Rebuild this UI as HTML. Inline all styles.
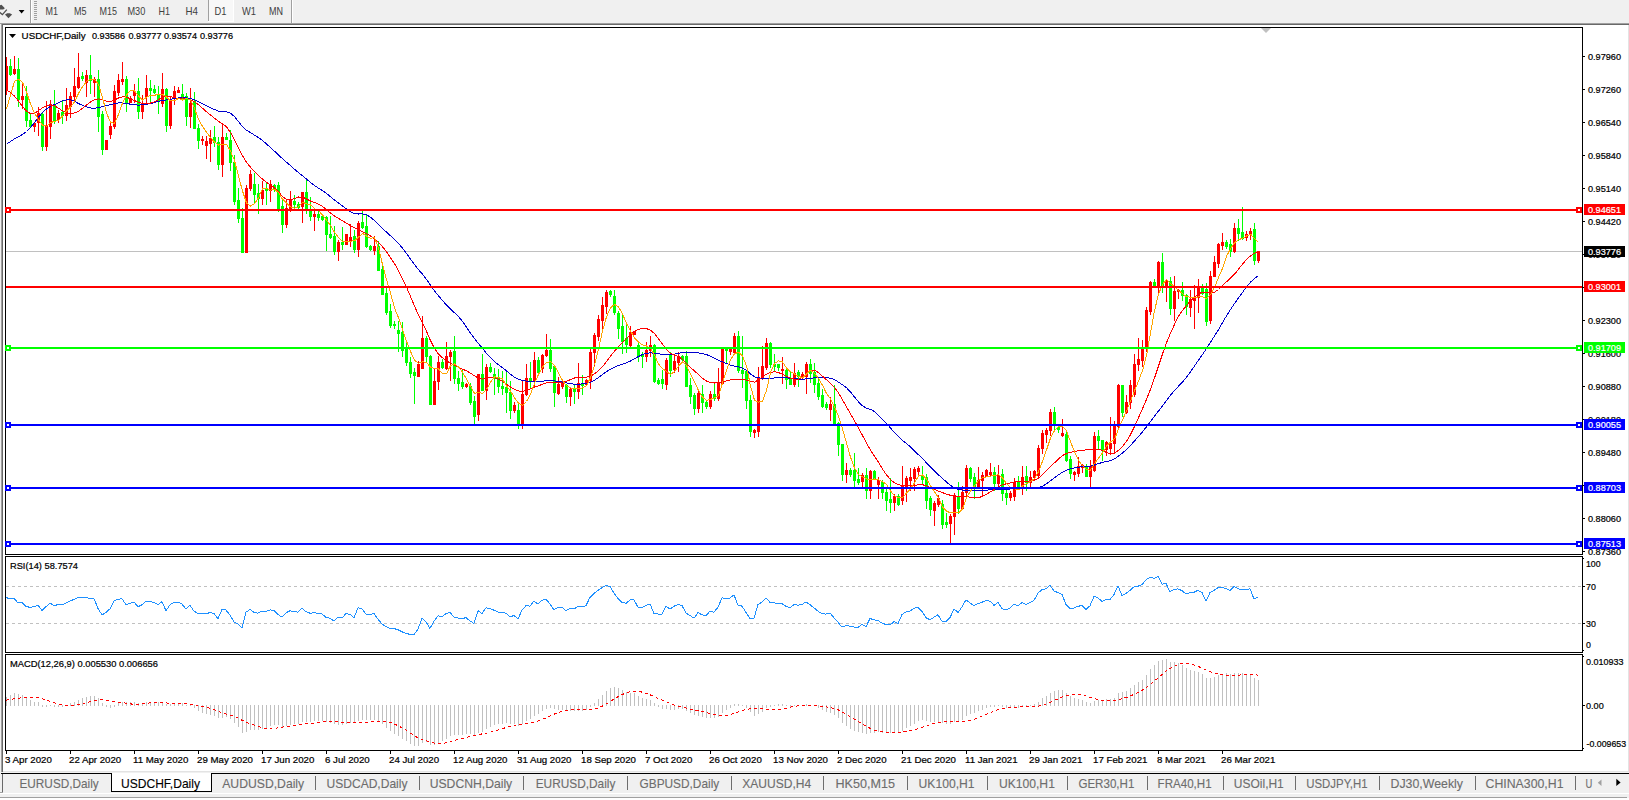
<!DOCTYPE html><html><head><meta charset="utf-8"><title>USDCHF,Daily</title>
<style>html,body{margin:0;padding:0;background:#f0f0f0;overflow:hidden}body{width:1629px;height:800px;position:relative;font-family:"Liberation Sans",sans-serif}svg{position:absolute;left:0;top:0;display:block}text{font-family:"Liberation Sans",sans-serif}</style></head><body>
<svg width="1629" height="800" viewBox="0 0 1629 800">
<rect x="0" y="0" width="1629" height="800" fill="#f0f0f0"/>
<g shape-rendering="crispEdges">
<rect x="3" y="25" width="1625" height="747" fill="#fff"/>
<rect x="0" y="23" width="1629" height="1" fill="#a0a0a0"/>
<rect x="2" y="24" width="1627" height="1" fill="#696969"/>
<rect x="1" y="23" width="1" height="749" fill="#a0a0a0"/>
<rect x="2" y="24" width="1" height="748" fill="#696969"/>
<rect x="1628" y="25" width="1" height="747" fill="#e3e3e3"/>
<rect x="5" y="27" width="1578" height="1" fill="#000"/>
<rect x="5" y="554" width="1578" height="1" fill="#000"/>
<rect x="5" y="27" width="1" height="528" fill="#000"/>
<rect x="1582" y="27" width="1" height="528" fill="#000"/>
<rect x="5" y="556" width="1578" height="1" fill="#000"/>
<rect x="5" y="652" width="1578" height="1" fill="#000"/>
<rect x="5" y="556" width="1" height="97" fill="#000"/>
<rect x="1582" y="556" width="1" height="97" fill="#000"/>
<rect x="5" y="654" width="1578" height="1" fill="#000"/>
<rect x="5" y="750" width="1578" height="1" fill="#000"/>
<rect x="5" y="654" width="1" height="97" fill="#000"/>
<rect x="1582" y="654" width="1" height="97" fill="#000"/>
</g>
<defs><clipPath id="cm"><rect x="6" y="28" width="1576" height="526"/></clipPath><clipPath id="cr"><rect x="6" y="557" width="1576" height="95"/></clipPath><clipPath id="cd"><rect x="6" y="655" width="1576" height="95"/></clipPath></defs>
<g clip-path="url(#cm)" shape-rendering="crispEdges">
<rect x="6" y="251" width="1576" height="1" fill="#c0c0c0"/>
<rect x="6" y="57" width="1" height="38" fill="#ff0000"/><rect x="5" y="66" width="3" height="24" fill="#ff0000"/>
<rect x="10" y="59" width="1" height="17" fill="#00ff00"/><rect x="9" y="66" width="3" height="9" fill="#00ff00"/>
<rect x="14" y="56" width="1" height="19" fill="#ff0000"/><rect x="13" y="69" width="3" height="5" fill="#ff0000"/>
<rect x="18" y="58" width="1" height="49" fill="#00ff00"/><rect x="17" y="69" width="3" height="31" fill="#00ff00"/>
<rect x="22" y="82" width="1" height="27" fill="#ff0000"/><rect x="21" y="96" width="3" height="4" fill="#ff0000"/>
<rect x="26" y="86" width="1" height="41" fill="#00ff00"/><rect x="25" y="96" width="3" height="25" fill="#00ff00"/>
<rect x="30" y="114" width="1" height="14" fill="#00ff00"/><rect x="29" y="120" width="3" height="7" fill="#00ff00"/>
<rect x="34" y="122" width="1" height="10" fill="#ff0000"/><rect x="33" y="123" width="3" height="4" fill="#ff0000"/>
<rect x="38" y="107" width="1" height="29" fill="#ff0000"/><rect x="37" y="113" width="3" height="10" fill="#ff0000"/>
<rect x="42" y="112" width="1" height="39" fill="#00ff00"/><rect x="41" y="114" width="3" height="33" fill="#00ff00"/>
<rect x="46" y="101" width="1" height="50" fill="#ff0000"/><rect x="45" y="126" width="3" height="21" fill="#ff0000"/>
<rect x="50" y="100" width="1" height="39" fill="#ff0000"/><rect x="49" y="104" width="3" height="23" fill="#ff0000"/>
<rect x="54" y="90" width="1" height="34" fill="#00ff00"/><rect x="53" y="105" width="3" height="16" fill="#00ff00"/>
<rect x="58" y="110" width="1" height="13" fill="#ff0000"/><rect x="57" y="113" width="3" height="7" fill="#ff0000"/>
<rect x="62" y="101" width="1" height="23" fill="#00ff00"/><rect x="61" y="112" width="3" height="4" fill="#00ff00"/>
<rect x="66" y="88" width="1" height="33" fill="#ff0000"/><rect x="65" y="105" width="3" height="11" fill="#ff0000"/>
<rect x="70" y="92" width="1" height="26" fill="#ff0000"/><rect x="69" y="96" width="3" height="11" fill="#ff0000"/>
<rect x="74" y="68" width="1" height="33" fill="#ff0000"/><rect x="73" y="86" width="3" height="11" fill="#ff0000"/>
<rect x="78" y="53" width="1" height="36" fill="#ff0000"/><rect x="77" y="77" width="3" height="11" fill="#ff0000"/>
<rect x="82" y="72" width="1" height="9" fill="#00ff00"/><rect x="81" y="76" width="3" height="3" fill="#00ff00"/>
<rect x="86" y="70" width="1" height="27" fill="#ff0000"/><rect x="85" y="75" width="3" height="8" fill="#ff0000"/>
<rect x="90" y="55" width="1" height="39" fill="#00ff00"/><rect x="89" y="75" width="3" height="6" fill="#00ff00"/>
<rect x="94" y="77" width="1" height="20" fill="#ff0000"/><rect x="93" y="79" width="3" height="4" fill="#ff0000"/>
<rect x="98" y="70" width="1" height="62" fill="#00ff00"/><rect x="97" y="79" width="3" height="38" fill="#00ff00"/>
<rect x="102" y="111" width="1" height="44" fill="#00ff00"/><rect x="101" y="114" width="3" height="36" fill="#00ff00"/>
<rect x="106" y="140" width="1" height="10" fill="#ff0000"/><rect x="105" y="140" width="3" height="10" fill="#ff0000"/>
<rect x="110" y="122" width="1" height="17" fill="#ff0000"/><rect x="109" y="126" width="3" height="9" fill="#ff0000"/>
<rect x="114" y="85" width="1" height="44" fill="#ff0000"/><rect x="113" y="91" width="3" height="36" fill="#ff0000"/>
<rect x="118" y="74" width="1" height="22" fill="#ff0000"/><rect x="117" y="80" width="3" height="13" fill="#ff0000"/>
<rect x="122" y="62" width="1" height="23" fill="#ff0000"/><rect x="121" y="79" width="3" height="3" fill="#ff0000"/>
<rect x="126" y="76" width="1" height="36" fill="#00ff00"/><rect x="125" y="79" width="3" height="24" fill="#00ff00"/>
<rect x="130" y="96" width="1" height="7" fill="#ff0000"/><rect x="129" y="98" width="3" height="5" fill="#ff0000"/>
<rect x="134" y="84" width="1" height="19" fill="#ff0000"/><rect x="133" y="91" width="3" height="5" fill="#ff0000"/>
<rect x="138" y="78" width="1" height="41" fill="#00ff00"/><rect x="137" y="91" width="3" height="21" fill="#00ff00"/>
<rect x="142" y="95" width="1" height="24" fill="#ff0000"/><rect x="141" y="103" width="3" height="9" fill="#ff0000"/>
<rect x="146" y="75" width="1" height="29" fill="#ff0000"/><rect x="145" y="88" width="3" height="9" fill="#ff0000"/>
<rect x="150" y="80" width="1" height="23" fill="#00ff00"/><rect x="149" y="88" width="3" height="3" fill="#00ff00"/>
<rect x="154" y="85" width="1" height="9" fill="#00ff00"/><rect x="153" y="89" width="3" height="4" fill="#00ff00"/>
<rect x="158" y="86" width="1" height="28" fill="#00ff00"/><rect x="157" y="94" width="3" height="7" fill="#00ff00"/>
<rect x="162" y="73" width="1" height="34" fill="#ff0000"/><rect x="161" y="89" width="3" height="15" fill="#ff0000"/>
<rect x="166" y="88" width="1" height="44" fill="#00ff00"/><rect x="165" y="89" width="3" height="37" fill="#00ff00"/>
<rect x="170" y="96" width="1" height="33" fill="#ff0000"/><rect x="169" y="101" width="3" height="25" fill="#ff0000"/>
<rect x="174" y="86" width="1" height="19" fill="#ff0000"/><rect x="173" y="91" width="3" height="8" fill="#ff0000"/>
<rect x="178" y="87" width="1" height="6" fill="#ff0000"/><rect x="177" y="90" width="3" height="3" fill="#ff0000"/>
<rect x="182" y="84" width="1" height="15" fill="#00ff00"/><rect x="181" y="94" width="3" height="4" fill="#00ff00"/>
<rect x="186" y="93" width="1" height="33" fill="#00ff00"/><rect x="185" y="96" width="3" height="21" fill="#00ff00"/>
<rect x="190" y="88" width="1" height="40" fill="#ff0000"/><rect x="189" y="103" width="3" height="14" fill="#ff0000"/>
<rect x="194" y="92" width="1" height="37" fill="#00ff00"/><rect x="193" y="101" width="3" height="28" fill="#00ff00"/>
<rect x="198" y="124" width="1" height="25" fill="#00ff00"/><rect x="197" y="128" width="3" height="13" fill="#00ff00"/>
<rect x="202" y="136" width="1" height="9" fill="#ff0000"/><rect x="201" y="139" width="3" height="2" fill="#ff0000"/>
<rect x="206" y="136" width="1" height="23" fill="#ff0000"/><rect x="205" y="141" width="3" height="5" fill="#ff0000"/>
<rect x="210" y="130" width="1" height="32" fill="#ff0000"/><rect x="209" y="138" width="3" height="6" fill="#ff0000"/>
<rect x="214" y="126" width="1" height="21" fill="#00ff00"/><rect x="213" y="137" width="3" height="6" fill="#00ff00"/>
<rect x="218" y="137" width="1" height="33" fill="#00ff00"/><rect x="217" y="142" width="3" height="23" fill="#00ff00"/>
<rect x="222" y="124" width="1" height="53" fill="#ff0000"/><rect x="221" y="137" width="3" height="28" fill="#ff0000"/>
<rect x="226" y="133" width="1" height="7" fill="#00ff00"/><rect x="225" y="137" width="3" height="3" fill="#00ff00"/>
<rect x="230" y="130" width="1" height="41" fill="#00ff00"/><rect x="229" y="140" width="3" height="23" fill="#00ff00"/>
<rect x="234" y="155" width="1" height="50" fill="#00ff00"/><rect x="233" y="162" width="3" height="40" fill="#00ff00"/>
<rect x="238" y="188" width="1" height="35" fill="#00ff00"/><rect x="237" y="200" width="3" height="19" fill="#00ff00"/>
<rect x="242" y="208" width="1" height="45" fill="#00ff00"/><rect x="241" y="218" width="3" height="35" fill="#00ff00"/>
<rect x="246" y="185" width="1" height="68" fill="#ff0000"/><rect x="245" y="188" width="3" height="65" fill="#ff0000"/>
<rect x="250" y="170" width="1" height="21" fill="#ff0000"/><rect x="249" y="174" width="3" height="15" fill="#ff0000"/>
<rect x="254" y="173" width="1" height="31" fill="#00ff00"/><rect x="253" y="184" width="3" height="11" fill="#00ff00"/>
<rect x="258" y="184" width="1" height="30" fill="#00ff00"/><rect x="257" y="193" width="3" height="6" fill="#00ff00"/>
<rect x="262" y="181" width="1" height="24" fill="#ff0000"/><rect x="261" y="190" width="3" height="9" fill="#ff0000"/>
<rect x="266" y="183" width="1" height="22" fill="#00ff00"/><rect x="265" y="188" width="3" height="3" fill="#00ff00"/>
<rect x="270" y="180" width="1" height="22" fill="#ff0000"/><rect x="269" y="184" width="3" height="7" fill="#ff0000"/>
<rect x="274" y="184" width="1" height="8" fill="#00ff00"/><rect x="273" y="185" width="3" height="4" fill="#00ff00"/>
<rect x="278" y="182" width="1" height="30" fill="#00ff00"/><rect x="277" y="185" width="3" height="24" fill="#00ff00"/>
<rect x="282" y="200" width="1" height="33" fill="#00ff00"/><rect x="281" y="206" width="3" height="19" fill="#00ff00"/>
<rect x="286" y="200" width="1" height="28" fill="#ff0000"/><rect x="285" y="208" width="3" height="17" fill="#ff0000"/>
<rect x="290" y="191" width="1" height="21" fill="#ff0000"/><rect x="289" y="200" width="3" height="10" fill="#ff0000"/>
<rect x="294" y="195" width="1" height="14" fill="#00ff00"/><rect x="293" y="201" width="3" height="4" fill="#00ff00"/>
<rect x="298" y="202" width="1" height="7" fill="#00ff00"/><rect x="297" y="204" width="3" height="4" fill="#00ff00"/>
<rect x="302" y="192" width="1" height="31" fill="#ff0000"/><rect x="301" y="192" width="3" height="15" fill="#ff0000"/>
<rect x="306" y="178" width="1" height="36" fill="#00ff00"/><rect x="305" y="192" width="3" height="18" fill="#00ff00"/>
<rect x="310" y="197" width="1" height="24" fill="#00ff00"/><rect x="309" y="210" width="3" height="7" fill="#00ff00"/>
<rect x="314" y="210" width="1" height="21" fill="#ff0000"/><rect x="313" y="214" width="3" height="3" fill="#ff0000"/>
<rect x="318" y="210" width="1" height="11" fill="#00ff00"/><rect x="317" y="214" width="3" height="4" fill="#00ff00"/>
<rect x="322" y="215" width="1" height="6" fill="#00ff00"/><rect x="321" y="216" width="3" height="4" fill="#00ff00"/>
<rect x="326" y="216" width="1" height="35" fill="#00ff00"/><rect x="325" y="217" width="3" height="18" fill="#00ff00"/>
<rect x="330" y="216" width="1" height="23" fill="#00ff00"/><rect x="329" y="234" width="3" height="4" fill="#00ff00"/>
<rect x="334" y="226" width="1" height="29" fill="#00ff00"/><rect x="333" y="236" width="3" height="16" fill="#00ff00"/>
<rect x="338" y="240" width="1" height="21" fill="#ff0000"/><rect x="337" y="242" width="3" height="10" fill="#ff0000"/>
<rect x="342" y="227" width="1" height="23" fill="#00ff00"/><rect x="341" y="242" width="3" height="3" fill="#00ff00"/>
<rect x="346" y="234" width="1" height="11" fill="#ff0000"/><rect x="345" y="234" width="3" height="11" fill="#ff0000"/>
<rect x="350" y="224" width="1" height="23" fill="#ff0000"/><rect x="349" y="237" width="3" height="4" fill="#ff0000"/>
<rect x="354" y="230" width="1" height="23" fill="#00ff00"/><rect x="353" y="236" width="3" height="14" fill="#00ff00"/>
<rect x="358" y="221" width="1" height="36" fill="#ff0000"/><rect x="357" y="223" width="3" height="27" fill="#ff0000"/>
<rect x="362" y="211" width="1" height="18" fill="#00ff00"/><rect x="361" y="222" width="3" height="6" fill="#00ff00"/>
<rect x="366" y="214" width="1" height="34" fill="#00ff00"/><rect x="365" y="226" width="3" height="21" fill="#00ff00"/>
<rect x="370" y="245" width="1" height="6" fill="#00ff00"/><rect x="369" y="246" width="3" height="4" fill="#00ff00"/>
<rect x="374" y="236" width="1" height="19" fill="#ff0000"/><rect x="373" y="246" width="3" height="5" fill="#ff0000"/>
<rect x="378" y="241" width="1" height="30" fill="#00ff00"/><rect x="377" y="246" width="3" height="25" fill="#00ff00"/>
<rect x="382" y="264" width="1" height="31" fill="#00ff00"/><rect x="381" y="269" width="3" height="26" fill="#00ff00"/>
<rect x="386" y="288" width="1" height="27" fill="#00ff00"/><rect x="385" y="293" width="3" height="20" fill="#00ff00"/>
<rect x="390" y="304" width="1" height="24" fill="#00ff00"/><rect x="389" y="311" width="3" height="15" fill="#00ff00"/>
<rect x="394" y="321" width="1" height="8" fill="#00ff00"/><rect x="393" y="324" width="3" height="2" fill="#00ff00"/>
<rect x="398" y="321" width="1" height="31" fill="#00ff00"/><rect x="397" y="330" width="3" height="4" fill="#00ff00"/>
<rect x="402" y="322" width="1" height="35" fill="#00ff00"/><rect x="401" y="332" width="3" height="19" fill="#00ff00"/>
<rect x="406" y="341" width="1" height="25" fill="#00ff00"/><rect x="405" y="348" width="3" height="15" fill="#00ff00"/>
<rect x="410" y="357" width="1" height="21" fill="#00ff00"/><rect x="409" y="362" width="3" height="12" fill="#00ff00"/>
<rect x="414" y="368" width="1" height="36" fill="#00ff00"/><rect x="413" y="372" width="3" height="4" fill="#00ff00"/>
<rect x="418" y="361" width="1" height="16" fill="#ff0000"/><rect x="417" y="364" width="3" height="13" fill="#ff0000"/>
<rect x="422" y="316" width="1" height="53" fill="#ff0000"/><rect x="421" y="338" width="3" height="31" fill="#ff0000"/>
<rect x="426" y="336" width="1" height="27" fill="#00ff00"/><rect x="425" y="338" width="3" height="19" fill="#00ff00"/>
<rect x="430" y="355" width="1" height="50" fill="#00ff00"/><rect x="429" y="356" width="3" height="49" fill="#00ff00"/>
<rect x="434" y="368" width="1" height="37" fill="#ff0000"/><rect x="433" y="381" width="3" height="24" fill="#ff0000"/>
<rect x="438" y="356" width="1" height="34" fill="#ff0000"/><rect x="437" y="362" width="3" height="20" fill="#ff0000"/>
<rect x="442" y="359" width="1" height="10" fill="#00ff00"/><rect x="441" y="362" width="3" height="6" fill="#00ff00"/>
<rect x="446" y="342" width="1" height="28" fill="#ff0000"/><rect x="445" y="356" width="3" height="13" fill="#ff0000"/>
<rect x="450" y="350" width="1" height="31" fill="#ff0000"/><rect x="449" y="352" width="3" height="5" fill="#ff0000"/>
<rect x="454" y="336" width="1" height="48" fill="#00ff00"/><rect x="453" y="351" width="3" height="28" fill="#00ff00"/>
<rect x="458" y="371" width="1" height="20" fill="#00ff00"/><rect x="457" y="378" width="3" height="6" fill="#00ff00"/>
<rect x="462" y="370" width="1" height="19" fill="#00ff00"/><rect x="461" y="382" width="3" height="5" fill="#00ff00"/>
<rect x="466" y="383" width="1" height="5" fill="#ff0000"/><rect x="465" y="384" width="3" height="3" fill="#ff0000"/>
<rect x="470" y="383" width="1" height="22" fill="#00ff00"/><rect x="469" y="386" width="3" height="17" fill="#00ff00"/>
<rect x="474" y="396" width="1" height="29" fill="#00ff00"/><rect x="473" y="401" width="3" height="16" fill="#00ff00"/>
<rect x="478" y="374" width="1" height="47" fill="#ff0000"/><rect x="477" y="374" width="3" height="41" fill="#ff0000"/>
<rect x="482" y="354" width="1" height="37" fill="#00ff00"/><rect x="481" y="374" width="3" height="17" fill="#00ff00"/>
<rect x="486" y="364" width="1" height="36" fill="#ff0000"/><rect x="485" y="367" width="3" height="24" fill="#ff0000"/>
<rect x="490" y="363" width="1" height="10" fill="#00ff00"/><rect x="489" y="367" width="3" height="5" fill="#00ff00"/>
<rect x="494" y="368" width="1" height="27" fill="#00ff00"/><rect x="493" y="374" width="3" height="5" fill="#00ff00"/>
<rect x="498" y="369" width="1" height="24" fill="#00ff00"/><rect x="497" y="378" width="3" height="9" fill="#00ff00"/>
<rect x="502" y="371" width="1" height="24" fill="#00ff00"/><rect x="501" y="386" width="3" height="3" fill="#00ff00"/>
<rect x="506" y="371" width="1" height="42" fill="#00ff00"/><rect x="505" y="387" width="3" height="6" fill="#00ff00"/>
<rect x="510" y="381" width="1" height="38" fill="#00ff00"/><rect x="509" y="392" width="3" height="19" fill="#00ff00"/>
<rect x="514" y="402" width="1" height="11" fill="#ff0000"/><rect x="513" y="405" width="3" height="6" fill="#ff0000"/>
<rect x="518" y="404" width="1" height="25" fill="#00ff00"/><rect x="517" y="410" width="3" height="14" fill="#00ff00"/>
<rect x="522" y="380" width="1" height="49" fill="#ff0000"/><rect x="521" y="394" width="3" height="30" fill="#ff0000"/>
<rect x="526" y="364" width="1" height="32" fill="#ff0000"/><rect x="525" y="378" width="3" height="17" fill="#ff0000"/>
<rect x="530" y="362" width="1" height="27" fill="#00ff00"/><rect x="529" y="378" width="3" height="3" fill="#00ff00"/>
<rect x="534" y="352" width="1" height="35" fill="#ff0000"/><rect x="533" y="360" width="3" height="21" fill="#ff0000"/>
<rect x="538" y="357" width="1" height="16" fill="#00ff00"/><rect x="537" y="360" width="3" height="13" fill="#00ff00"/>
<rect x="542" y="354" width="1" height="19" fill="#ff0000"/><rect x="541" y="355" width="3" height="14" fill="#ff0000"/>
<rect x="546" y="334" width="1" height="23" fill="#ff0000"/><rect x="545" y="350" width="3" height="6" fill="#ff0000"/>
<rect x="550" y="339" width="1" height="33" fill="#00ff00"/><rect x="549" y="350" width="3" height="19" fill="#00ff00"/>
<rect x="554" y="365" width="1" height="42" fill="#00ff00"/><rect x="553" y="366" width="3" height="27" fill="#00ff00"/>
<rect x="558" y="377" width="1" height="18" fill="#ff0000"/><rect x="557" y="384" width="3" height="10" fill="#ff0000"/>
<rect x="562" y="379" width="1" height="10" fill="#ff0000"/><rect x="561" y="382" width="3" height="5" fill="#ff0000"/>
<rect x="566" y="384" width="1" height="19" fill="#00ff00"/><rect x="565" y="385" width="3" height="12" fill="#00ff00"/>
<rect x="570" y="388" width="1" height="18" fill="#ff0000"/><rect x="569" y="389" width="3" height="8" fill="#ff0000"/>
<rect x="574" y="385" width="1" height="19" fill="#00ff00"/><rect x="573" y="389" width="3" height="3" fill="#00ff00"/>
<rect x="578" y="363" width="1" height="36" fill="#ff0000"/><rect x="577" y="383" width="3" height="9" fill="#ff0000"/>
<rect x="582" y="375" width="1" height="20" fill="#00ff00"/><rect x="581" y="383" width="3" height="3" fill="#00ff00"/>
<rect x="586" y="379" width="1" height="7" fill="#ff0000"/><rect x="585" y="380" width="3" height="5" fill="#ff0000"/>
<rect x="590" y="349" width="1" height="40" fill="#ff0000"/><rect x="589" y="352" width="3" height="29" fill="#ff0000"/>
<rect x="594" y="333" width="1" height="33" fill="#ff0000"/><rect x="593" y="335" width="3" height="18" fill="#ff0000"/>
<rect x="598" y="315" width="1" height="26" fill="#ff0000"/><rect x="597" y="319" width="3" height="18" fill="#ff0000"/>
<rect x="602" y="297" width="1" height="32" fill="#ff0000"/><rect x="601" y="305" width="3" height="16" fill="#ff0000"/>
<rect x="606" y="290" width="1" height="24" fill="#ff0000"/><rect x="605" y="292" width="3" height="15" fill="#ff0000"/>
<rect x="610" y="290" width="1" height="7" fill="#00ff00"/><rect x="609" y="291" width="3" height="4" fill="#00ff00"/>
<rect x="614" y="290" width="1" height="25" fill="#00ff00"/><rect x="613" y="296" width="3" height="17" fill="#00ff00"/>
<rect x="618" y="311" width="1" height="28" fill="#00ff00"/><rect x="617" y="313" width="3" height="16" fill="#00ff00"/>
<rect x="622" y="315" width="1" height="39" fill="#00ff00"/><rect x="621" y="326" width="3" height="16" fill="#00ff00"/>
<rect x="626" y="325" width="1" height="28" fill="#00ff00"/><rect x="625" y="338" width="3" height="7" fill="#00ff00"/>
<rect x="630" y="326" width="1" height="21" fill="#ff0000"/><rect x="629" y="332" width="3" height="14" fill="#ff0000"/>
<rect x="634" y="331" width="1" height="4" fill="#ff0000"/><rect x="633" y="331" width="3" height="4" fill="#ff0000"/>
<rect x="638" y="342" width="1" height="20" fill="#00ff00"/><rect x="637" y="345" width="3" height="12" fill="#00ff00"/>
<rect x="642" y="352" width="1" height="16" fill="#00ff00"/><rect x="641" y="354" width="3" height="3" fill="#00ff00"/>
<rect x="646" y="342" width="1" height="20" fill="#ff0000"/><rect x="645" y="350" width="3" height="7" fill="#ff0000"/>
<rect x="650" y="336" width="1" height="21" fill="#ff0000"/><rect x="649" y="345" width="3" height="6" fill="#ff0000"/>
<rect x="654" y="344" width="1" height="39" fill="#00ff00"/><rect x="653" y="345" width="3" height="37" fill="#00ff00"/>
<rect x="658" y="378" width="1" height="7" fill="#00ff00"/><rect x="657" y="380" width="3" height="4" fill="#00ff00"/>
<rect x="662" y="370" width="1" height="19" fill="#00ff00"/><rect x="661" y="379" width="3" height="5" fill="#00ff00"/>
<rect x="666" y="358" width="1" height="32" fill="#ff0000"/><rect x="665" y="360" width="3" height="25" fill="#ff0000"/>
<rect x="670" y="352" width="1" height="25" fill="#00ff00"/><rect x="669" y="355" width="3" height="16" fill="#00ff00"/>
<rect x="674" y="354" width="1" height="19" fill="#ff0000"/><rect x="673" y="361" width="3" height="9" fill="#ff0000"/>
<rect x="678" y="352" width="1" height="20" fill="#ff0000"/><rect x="677" y="356" width="3" height="7" fill="#ff0000"/>
<rect x="682" y="355" width="1" height="6" fill="#00ff00"/><rect x="681" y="356" width="3" height="4" fill="#00ff00"/>
<rect x="686" y="351" width="1" height="36" fill="#00ff00"/><rect x="685" y="356" width="3" height="31" fill="#00ff00"/>
<rect x="690" y="378" width="1" height="26" fill="#00ff00"/><rect x="689" y="385" width="3" height="12" fill="#00ff00"/>
<rect x="694" y="393" width="1" height="22" fill="#00ff00"/><rect x="693" y="395" width="3" height="14" fill="#00ff00"/>
<rect x="698" y="390" width="1" height="23" fill="#ff0000"/><rect x="697" y="393" width="3" height="16" fill="#ff0000"/>
<rect x="702" y="385" width="1" height="28" fill="#00ff00"/><rect x="701" y="394" width="3" height="9" fill="#00ff00"/>
<rect x="706" y="401" width="1" height="8" fill="#00ff00"/><rect x="705" y="402" width="3" height="5" fill="#00ff00"/>
<rect x="710" y="391" width="1" height="18" fill="#ff0000"/><rect x="709" y="394" width="3" height="13" fill="#ff0000"/>
<rect x="714" y="382" width="1" height="19" fill="#00ff00"/><rect x="713" y="394" width="3" height="5" fill="#00ff00"/>
<rect x="718" y="368" width="1" height="33" fill="#ff0000"/><rect x="717" y="383" width="3" height="16" fill="#ff0000"/>
<rect x="722" y="348" width="1" height="37" fill="#ff0000"/><rect x="721" y="349" width="3" height="35" fill="#ff0000"/>
<rect x="726" y="348" width="1" height="15" fill="#00ff00"/><rect x="725" y="348" width="3" height="3" fill="#00ff00"/>
<rect x="730" y="348" width="1" height="7" fill="#ff0000"/><rect x="729" y="349" width="3" height="3" fill="#ff0000"/>
<rect x="734" y="333" width="1" height="20" fill="#ff0000"/><rect x="733" y="336" width="3" height="17" fill="#ff0000"/>
<rect x="738" y="331" width="1" height="42" fill="#00ff00"/><rect x="737" y="336" width="3" height="35" fill="#00ff00"/>
<rect x="742" y="336" width="1" height="52" fill="#00ff00"/><rect x="741" y="370" width="3" height="4" fill="#00ff00"/>
<rect x="746" y="370" width="1" height="39" fill="#00ff00"/><rect x="745" y="371" width="3" height="30" fill="#00ff00"/>
<rect x="750" y="395" width="1" height="42" fill="#00ff00"/><rect x="749" y="400" width="3" height="32" fill="#00ff00"/>
<rect x="754" y="429" width="1" height="9" fill="#ff0000"/><rect x="753" y="430" width="3" height="3" fill="#ff0000"/>
<rect x="758" y="367" width="1" height="70" fill="#ff0000"/><rect x="757" y="378" width="3" height="54" fill="#ff0000"/>
<rect x="762" y="346" width="1" height="34" fill="#ff0000"/><rect x="761" y="366" width="3" height="13" fill="#ff0000"/>
<rect x="766" y="338" width="1" height="32" fill="#ff0000"/><rect x="765" y="343" width="3" height="25" fill="#ff0000"/>
<rect x="770" y="342" width="1" height="26" fill="#00ff00"/><rect x="769" y="343" width="3" height="22" fill="#00ff00"/>
<rect x="774" y="354" width="1" height="17" fill="#00ff00"/><rect x="773" y="364" width="3" height="3" fill="#00ff00"/>
<rect x="778" y="364" width="1" height="7" fill="#00ff00"/><rect x="777" y="364" width="3" height="4" fill="#00ff00"/>
<rect x="782" y="357" width="1" height="27" fill="#ff0000"/><rect x="781" y="369" width="3" height="2" fill="#ff0000"/>
<rect x="786" y="369" width="1" height="20" fill="#00ff00"/><rect x="785" y="370" width="3" height="10" fill="#00ff00"/>
<rect x="790" y="371" width="1" height="14" fill="#00ff00"/><rect x="789" y="378" width="3" height="7" fill="#00ff00"/>
<rect x="794" y="363" width="1" height="24" fill="#ff0000"/><rect x="793" y="373" width="3" height="12" fill="#ff0000"/>
<rect x="798" y="370" width="1" height="17" fill="#00ff00"/><rect x="797" y="372" width="3" height="5" fill="#00ff00"/>
<rect x="802" y="372" width="1" height="7" fill="#ff0000"/><rect x="801" y="374" width="3" height="3" fill="#ff0000"/>
<rect x="806" y="362" width="1" height="32" fill="#ff0000"/><rect x="805" y="364" width="3" height="13" fill="#ff0000"/>
<rect x="810" y="359" width="1" height="24" fill="#00ff00"/><rect x="809" y="364" width="3" height="10" fill="#00ff00"/>
<rect x="814" y="363" width="1" height="30" fill="#00ff00"/><rect x="813" y="372" width="3" height="13" fill="#00ff00"/>
<rect x="818" y="379" width="1" height="21" fill="#00ff00"/><rect x="817" y="383" width="3" height="14" fill="#00ff00"/>
<rect x="822" y="389" width="1" height="19" fill="#00ff00"/><rect x="821" y="395" width="3" height="12" fill="#00ff00"/>
<rect x="826" y="402" width="1" height="8" fill="#00ff00"/><rect x="825" y="404" width="3" height="4" fill="#00ff00"/>
<rect x="830" y="397" width="1" height="24" fill="#ff0000"/><rect x="829" y="404" width="3" height="6" fill="#ff0000"/>
<rect x="834" y="385" width="1" height="41" fill="#00ff00"/><rect x="833" y="404" width="3" height="21" fill="#00ff00"/>
<rect x="838" y="422" width="1" height="34" fill="#00ff00"/><rect x="837" y="423" width="3" height="22" fill="#00ff00"/>
<rect x="842" y="444" width="1" height="37" fill="#00ff00"/><rect x="841" y="444" width="3" height="31" fill="#00ff00"/>
<rect x="846" y="463" width="1" height="20" fill="#ff0000"/><rect x="845" y="470" width="3" height="5" fill="#ff0000"/>
<rect x="850" y="468" width="1" height="9" fill="#00ff00"/><rect x="849" y="470" width="3" height="5" fill="#00ff00"/>
<rect x="854" y="453" width="1" height="34" fill="#00ff00"/><rect x="853" y="470" width="3" height="11" fill="#00ff00"/>
<rect x="858" y="468" width="1" height="17" fill="#00ff00"/><rect x="857" y="479" width="3" height="4" fill="#00ff00"/>
<rect x="862" y="473" width="1" height="14" fill="#ff0000"/><rect x="861" y="475" width="3" height="7" fill="#ff0000"/>
<rect x="866" y="468" width="1" height="31" fill="#00ff00"/><rect x="865" y="475" width="3" height="16" fill="#00ff00"/>
<rect x="870" y="470" width="1" height="29" fill="#ff0000"/><rect x="869" y="471" width="3" height="20" fill="#ff0000"/>
<rect x="874" y="470" width="1" height="9" fill="#00ff00"/><rect x="873" y="471" width="3" height="8" fill="#00ff00"/>
<rect x="878" y="477" width="1" height="22" fill="#ff0000"/><rect x="877" y="480" width="3" height="5" fill="#ff0000"/>
<rect x="882" y="480" width="1" height="19" fill="#00ff00"/><rect x="881" y="482" width="3" height="11" fill="#00ff00"/>
<rect x="886" y="489" width="1" height="22" fill="#00ff00"/><rect x="885" y="492" width="3" height="9" fill="#00ff00"/>
<rect x="890" y="478" width="1" height="35" fill="#00ff00"/><rect x="889" y="499" width="3" height="4" fill="#00ff00"/>
<rect x="894" y="494" width="1" height="17" fill="#ff0000"/><rect x="893" y="496" width="3" height="7" fill="#ff0000"/>
<rect x="898" y="494" width="1" height="12" fill="#00ff00"/><rect x="897" y="496" width="3" height="9" fill="#00ff00"/>
<rect x="902" y="466" width="1" height="39" fill="#ff0000"/><rect x="901" y="485" width="3" height="16" fill="#ff0000"/>
<rect x="906" y="476" width="1" height="26" fill="#ff0000"/><rect x="905" y="478" width="3" height="9" fill="#ff0000"/>
<rect x="910" y="468" width="1" height="23" fill="#ff0000"/><rect x="909" y="477" width="3" height="4" fill="#ff0000"/>
<rect x="914" y="467" width="1" height="24" fill="#ff0000"/><rect x="913" y="469" width="3" height="10" fill="#ff0000"/>
<rect x="918" y="466" width="1" height="9" fill="#ff0000"/><rect x="917" y="468" width="3" height="4" fill="#ff0000"/>
<rect x="922" y="466" width="1" height="19" fill="#00ff00"/><rect x="921" y="476" width="3" height="4" fill="#00ff00"/>
<rect x="926" y="474" width="1" height="35" fill="#00ff00"/><rect x="925" y="477" width="3" height="24" fill="#00ff00"/>
<rect x="930" y="496" width="1" height="20" fill="#00ff00"/><rect x="929" y="498" width="3" height="12" fill="#00ff00"/>
<rect x="934" y="501" width="1" height="25" fill="#ff0000"/><rect x="933" y="503" width="3" height="8" fill="#ff0000"/>
<rect x="938" y="495" width="1" height="12" fill="#ff0000"/><rect x="937" y="498" width="3" height="7" fill="#ff0000"/>
<rect x="942" y="500" width="1" height="29" fill="#00ff00"/><rect x="941" y="504" width="3" height="21" fill="#00ff00"/>
<rect x="946" y="513" width="1" height="15" fill="#00ff00"/><rect x="945" y="522" width="3" height="3" fill="#00ff00"/>
<rect x="950" y="514" width="1" height="29" fill="#ff0000"/><rect x="949" y="516" width="3" height="8" fill="#ff0000"/>
<rect x="954" y="493" width="1" height="42" fill="#ff0000"/><rect x="953" y="495" width="3" height="22" fill="#ff0000"/>
<rect x="958" y="482" width="1" height="32" fill="#00ff00"/><rect x="957" y="496" width="3" height="13" fill="#00ff00"/>
<rect x="962" y="486" width="1" height="23" fill="#ff0000"/><rect x="961" y="492" width="3" height="17" fill="#ff0000"/>
<rect x="966" y="465" width="1" height="34" fill="#ff0000"/><rect x="965" y="468" width="3" height="25" fill="#ff0000"/>
<rect x="970" y="467" width="1" height="15" fill="#00ff00"/><rect x="969" y="468" width="3" height="11" fill="#00ff00"/>
<rect x="974" y="473" width="1" height="26" fill="#00ff00"/><rect x="973" y="477" width="3" height="10" fill="#00ff00"/>
<rect x="978" y="467" width="1" height="22" fill="#ff0000"/><rect x="977" y="480" width="3" height="8" fill="#ff0000"/>
<rect x="982" y="472" width="1" height="25" fill="#ff0000"/><rect x="981" y="475" width="3" height="6" fill="#ff0000"/>
<rect x="986" y="469" width="1" height="8" fill="#ff0000"/><rect x="985" y="470" width="3" height="7" fill="#ff0000"/>
<rect x="990" y="463" width="1" height="14" fill="#ff0000"/><rect x="989" y="472" width="3" height="3" fill="#ff0000"/>
<rect x="994" y="467" width="1" height="24" fill="#00ff00"/><rect x="993" y="472" width="3" height="12" fill="#00ff00"/>
<rect x="998" y="465" width="1" height="24" fill="#ff0000"/><rect x="997" y="475" width="3" height="9" fill="#ff0000"/>
<rect x="1002" y="469" width="1" height="32" fill="#00ff00"/><rect x="1001" y="474" width="3" height="20" fill="#00ff00"/>
<rect x="1006" y="490" width="1" height="15" fill="#00ff00"/><rect x="1005" y="493" width="3" height="5" fill="#00ff00"/>
<rect x="1010" y="491" width="1" height="10" fill="#ff0000"/><rect x="1009" y="493" width="3" height="5" fill="#ff0000"/>
<rect x="1014" y="478" width="1" height="23" fill="#ff0000"/><rect x="1013" y="482" width="3" height="15" fill="#ff0000"/>
<rect x="1018" y="476" width="1" height="14" fill="#00ff00"/><rect x="1017" y="482" width="3" height="7" fill="#00ff00"/>
<rect x="1022" y="466" width="1" height="29" fill="#ff0000"/><rect x="1021" y="477" width="3" height="11" fill="#ff0000"/>
<rect x="1026" y="466" width="1" height="25" fill="#00ff00"/><rect x="1025" y="476" width="3" height="7" fill="#00ff00"/>
<rect x="1030" y="471" width="1" height="16" fill="#ff0000"/><rect x="1029" y="477" width="3" height="6" fill="#ff0000"/>
<rect x="1034" y="470" width="1" height="10" fill="#ff0000"/><rect x="1033" y="471" width="3" height="7" fill="#ff0000"/>
<rect x="1038" y="445" width="1" height="34" fill="#ff0000"/><rect x="1037" y="448" width="3" height="28" fill="#ff0000"/>
<rect x="1042" y="430" width="1" height="24" fill="#ff0000"/><rect x="1041" y="433" width="3" height="16" fill="#ff0000"/>
<rect x="1046" y="428" width="1" height="15" fill="#ff0000"/><rect x="1045" y="430" width="3" height="5" fill="#ff0000"/>
<rect x="1050" y="409" width="1" height="27" fill="#ff0000"/><rect x="1049" y="412" width="3" height="19" fill="#ff0000"/>
<rect x="1054" y="407" width="1" height="24" fill="#00ff00"/><rect x="1053" y="412" width="3" height="14" fill="#00ff00"/>
<rect x="1058" y="425" width="1" height="8" fill="#00ff00"/><rect x="1057" y="427" width="3" height="3" fill="#00ff00"/>
<rect x="1062" y="419" width="1" height="18" fill="#ff0000"/><rect x="1061" y="433" width="3" height="3" fill="#ff0000"/>
<rect x="1066" y="430" width="1" height="32" fill="#00ff00"/><rect x="1065" y="434" width="3" height="27" fill="#00ff00"/>
<rect x="1070" y="456" width="1" height="23" fill="#00ff00"/><rect x="1069" y="459" width="3" height="15" fill="#00ff00"/>
<rect x="1074" y="471" width="1" height="10" fill="#ff0000"/><rect x="1073" y="472" width="3" height="3" fill="#ff0000"/>
<rect x="1078" y="457" width="1" height="20" fill="#ff0000"/><rect x="1077" y="466" width="3" height="8" fill="#ff0000"/>
<rect x="1082" y="464" width="1" height="9" fill="#ff0000"/><rect x="1081" y="465" width="3" height="3" fill="#ff0000"/>
<rect x="1086" y="464" width="1" height="13" fill="#00ff00"/><rect x="1085" y="467" width="3" height="10" fill="#00ff00"/>
<rect x="1090" y="460" width="1" height="29" fill="#ff0000"/><rect x="1089" y="466" width="3" height="11" fill="#ff0000"/>
<rect x="1094" y="432" width="1" height="40" fill="#ff0000"/><rect x="1093" y="436" width="3" height="35" fill="#ff0000"/>
<rect x="1098" y="430" width="1" height="20" fill="#00ff00"/><rect x="1097" y="436" width="3" height="5" fill="#00ff00"/>
<rect x="1102" y="440" width="1" height="21" fill="#00ff00"/><rect x="1101" y="440" width="3" height="11" fill="#00ff00"/>
<rect x="1106" y="441" width="1" height="15" fill="#ff0000"/><rect x="1105" y="442" width="3" height="8" fill="#ff0000"/>
<rect x="1110" y="417" width="1" height="38" fill="#ff0000"/><rect x="1109" y="443" width="3" height="6" fill="#ff0000"/>
<rect x="1114" y="421" width="1" height="33" fill="#ff0000"/><rect x="1113" y="426" width="3" height="18" fill="#ff0000"/>
<rect x="1118" y="384" width="1" height="45" fill="#ff0000"/><rect x="1117" y="385" width="3" height="42" fill="#ff0000"/>
<rect x="1122" y="385" width="1" height="32" fill="#00ff00"/><rect x="1121" y="385" width="3" height="28" fill="#00ff00"/>
<rect x="1126" y="395" width="1" height="19" fill="#ff0000"/><rect x="1125" y="402" width="3" height="11" fill="#ff0000"/>
<rect x="1130" y="380" width="1" height="29" fill="#ff0000"/><rect x="1129" y="385" width="3" height="18" fill="#ff0000"/>
<rect x="1134" y="354" width="1" height="43" fill="#ff0000"/><rect x="1133" y="364" width="3" height="31" fill="#ff0000"/>
<rect x="1138" y="338" width="1" height="33" fill="#ff0000"/><rect x="1137" y="359" width="3" height="6" fill="#ff0000"/>
<rect x="1142" y="340" width="1" height="27" fill="#ff0000"/><rect x="1141" y="349" width="3" height="12" fill="#ff0000"/>
<rect x="1146" y="307" width="1" height="45" fill="#ff0000"/><rect x="1145" y="310" width="3" height="39" fill="#ff0000"/>
<rect x="1150" y="281" width="1" height="34" fill="#ff0000"/><rect x="1149" y="282" width="3" height="30" fill="#ff0000"/>
<rect x="1154" y="279" width="1" height="8" fill="#00ff00"/><rect x="1153" y="282" width="3" height="4" fill="#00ff00"/>
<rect x="1158" y="261" width="1" height="34" fill="#ff0000"/><rect x="1157" y="262" width="3" height="26" fill="#ff0000"/>
<rect x="1162" y="253" width="1" height="40" fill="#00ff00"/><rect x="1161" y="262" width="3" height="25" fill="#00ff00"/>
<rect x="1166" y="279" width="1" height="23" fill="#ff0000"/><rect x="1165" y="281" width="3" height="6" fill="#ff0000"/>
<rect x="1170" y="277" width="1" height="38" fill="#00ff00"/><rect x="1169" y="281" width="3" height="28" fill="#00ff00"/>
<rect x="1174" y="276" width="1" height="45" fill="#ff0000"/><rect x="1173" y="291" width="3" height="18" fill="#ff0000"/>
<rect x="1178" y="289" width="1" height="10" fill="#ff0000"/><rect x="1177" y="290" width="3" height="2" fill="#ff0000"/>
<rect x="1182" y="282" width="1" height="19" fill="#00ff00"/><rect x="1181" y="290" width="3" height="6" fill="#00ff00"/>
<rect x="1186" y="294" width="1" height="21" fill="#00ff00"/><rect x="1185" y="295" width="3" height="12" fill="#00ff00"/>
<rect x="1190" y="290" width="1" height="27" fill="#ff0000"/><rect x="1189" y="299" width="3" height="9" fill="#ff0000"/>
<rect x="1194" y="285" width="1" height="44" fill="#ff0000"/><rect x="1193" y="297" width="3" height="4" fill="#ff0000"/>
<rect x="1198" y="279" width="1" height="34" fill="#ff0000"/><rect x="1197" y="287" width="3" height="11" fill="#ff0000"/>
<rect x="1202" y="284" width="1" height="11" fill="#00ff00"/><rect x="1201" y="288" width="3" height="6" fill="#00ff00"/>
<rect x="1206" y="283" width="1" height="43" fill="#00ff00"/><rect x="1205" y="289" width="3" height="33" fill="#00ff00"/>
<rect x="1210" y="271" width="1" height="53" fill="#ff0000"/><rect x="1209" y="276" width="3" height="45" fill="#ff0000"/>
<rect x="1214" y="256" width="1" height="21" fill="#ff0000"/><rect x="1213" y="262" width="3" height="15" fill="#ff0000"/>
<rect x="1218" y="243" width="1" height="25" fill="#ff0000"/><rect x="1217" y="244" width="3" height="20" fill="#ff0000"/>
<rect x="1222" y="233" width="1" height="17" fill="#ff0000"/><rect x="1221" y="242" width="3" height="4" fill="#ff0000"/>
<rect x="1226" y="240" width="1" height="9" fill="#00ff00"/><rect x="1225" y="242" width="3" height="5" fill="#00ff00"/>
<rect x="1230" y="239" width="1" height="18" fill="#00ff00"/><rect x="1229" y="244" width="3" height="8" fill="#00ff00"/>
<rect x="1234" y="223" width="1" height="30" fill="#ff0000"/><rect x="1233" y="228" width="3" height="24" fill="#ff0000"/>
<rect x="1238" y="219" width="1" height="22" fill="#00ff00"/><rect x="1237" y="228" width="3" height="6" fill="#00ff00"/>
<rect x="1242" y="207" width="1" height="33" fill="#00ff00"/><rect x="1241" y="232" width="3" height="7" fill="#00ff00"/>
<rect x="1246" y="231" width="1" height="10" fill="#ff0000"/><rect x="1245" y="234" width="3" height="4" fill="#ff0000"/>
<rect x="1250" y="228" width="1" height="12" fill="#ff0000"/><rect x="1249" y="231" width="3" height="3" fill="#ff0000"/>
<rect x="1254" y="223" width="1" height="42" fill="#00ff00"/><rect x="1253" y="229" width="3" height="32" fill="#00ff00"/>
<rect x="1258" y="251" width="1" height="12" fill="#ff0000"/><rect x="1257" y="251" width="3" height="10" fill="#ff0000"/>
</g>
<polyline clip-path="url(#cm)" points="6.5,144.2 10.5,141.5 14.5,138.9 18.5,136.7 22.5,134.5 26.5,131.5 30.5,127.5 34.5,122.5 38.5,117.1 42.5,112.4 46.5,108.9 50.5,106.4 54.5,104.6 58.5,102.6 62.5,100.8 66.5,99.8 70.5,99.9 74.5,101.3 78.5,103.5 82.5,105.4 86.5,106.9 90.5,108.0 94.5,108.2 98.5,107.8 102.5,106.7 106.5,105.5 110.5,104.6 114.5,103.7 118.5,103.0 122.5,102.9 126.5,103.4 130.5,104.2 134.5,104.9 138.5,105.1 142.5,104.9 146.5,104.3 150.5,103.5 154.5,102.5 158.5,101.4 162.5,100.5 166.5,99.9 170.5,99.2 174.5,98.5 178.5,97.9 182.5,97.6 186.5,97.9 190.5,98.6 194.5,99.9 198.5,101.8 202.5,103.7 206.5,105.6 210.5,107.6 214.5,109.6 218.5,111.1 222.5,111.5 226.5,111.8 230.5,113.2 234.5,116.6 238.5,121.6 242.5,126.7 246.5,130.2 250.5,132.7 254.5,135.1 258.5,137.6 262.5,140.4 266.5,144.0 270.5,147.6 274.5,151.2 278.5,155.0 282.5,158.7 286.5,162.2 290.5,165.6 294.5,169.2 298.5,172.7 302.5,175.8 306.5,179.0 310.5,182.5 314.5,185.6 318.5,188.2 322.5,190.5 326.5,193.4 330.5,196.8 334.5,200.0 338.5,203.0 342.5,205.9 346.5,208.9 350.5,211.9 354.5,213.8 358.5,214.0 362.5,213.8 366.5,214.8 370.5,217.2 374.5,220.6 378.5,224.5 382.5,228.3 386.5,232.2 390.5,235.8 394.5,239.4 398.5,243.5 402.5,248.2 406.5,253.4 410.5,259.1 414.5,264.5 418.5,269.6 422.5,274.2 426.5,279.3 430.5,285.1 434.5,290.8 438.5,295.8 442.5,300.5 446.5,305.0 450.5,309.2 454.5,312.8 458.5,316.5 462.5,321.4 466.5,327.2 470.5,333.1 474.5,338.5 478.5,343.6 482.5,348.4 486.5,353.3 490.5,357.8 494.5,361.6 498.5,364.8 502.5,367.8 506.5,370.9 510.5,374.3 514.5,377.3 518.5,379.4 522.5,380.5 526.5,381.1 530.5,381.3 534.5,381.1 538.5,381.1 542.5,381.1 546.5,380.8 550.5,380.6 554.5,380.9 558.5,381.6 562.5,382.1 566.5,382.9 570.5,383.7 574.5,384.2 578.5,384.2 582.5,383.9 586.5,383.4 590.5,382.4 594.5,380.3 598.5,377.5 602.5,374.5 606.5,371.7 610.5,369.2 614.5,367.2 618.5,365.5 622.5,364.2 626.5,362.9 630.5,361.0 634.5,358.8 638.5,356.5 642.5,354.5 646.5,353.3 650.5,352.9 654.5,353.2 658.5,353.8 662.5,354.3 666.5,354.8 670.5,354.8 674.5,354.2 678.5,353.3 682.5,352.6 686.5,352.5 690.5,352.5 694.5,352.7 698.5,353.0 702.5,353.6 706.5,354.6 710.5,356.2 714.5,358.3 718.5,360.4 722.5,361.9 726.5,363.5 730.5,365.1 734.5,366.1 738.5,366.9 742.5,368.1 746.5,370.4 750.5,373.9 754.5,376.8 758.5,377.9 762.5,378.3 766.5,378.5 770.5,378.4 774.5,378.0 778.5,377.6 782.5,377.5 786.5,377.9 790.5,378.3 794.5,378.7 798.5,379.1 802.5,379.2 806.5,378.9 810.5,378.4 814.5,377.7 818.5,377.4 822.5,377.4 826.5,377.7 830.5,378.3 834.5,379.6 838.5,382.1 842.5,384.8 846.5,387.7 850.5,392.0 854.5,397.0 858.5,401.9 862.5,405.9 866.5,408.2 870.5,409.4 874.5,411.5 878.5,415.3 882.5,419.4 886.5,423.4 890.5,428.0 894.5,432.6 898.5,436.8 902.5,440.5 906.5,443.6 910.5,446.9 914.5,451.0 918.5,454.8 922.5,458.6 926.5,462.9 930.5,467.0 934.5,470.9 938.5,474.9 942.5,478.4 946.5,482.0 950.5,485.4 954.5,487.9 958.5,489.5 962.5,490.1 966.5,490.2 970.5,490.4 974.5,490.9 978.5,491.0 982.5,490.6 986.5,490.1 990.5,489.9 994.5,489.8 998.5,489.7 1002.5,489.4 1006.5,489.1 1010.5,489.0 1014.5,488.9 1018.5,488.7 1022.5,488.4 1026.5,488.2 1030.5,488.2 1034.5,488.1 1038.5,487.6 1042.5,486.3 1046.5,483.8 1050.5,480.8 1054.5,477.8 1058.5,474.8 1062.5,472.1 1066.5,470.2 1070.5,468.9 1074.5,467.9 1078.5,467.2 1082.5,466.7 1086.5,466.5 1090.5,466.1 1094.5,465.0 1098.5,463.6 1102.5,462.4 1106.5,461.6 1110.5,460.6 1114.5,458.9 1118.5,456.1 1122.5,453.0 1126.5,449.6 1130.5,445.5 1134.5,441.0 1138.5,436.5 1142.5,431.8 1146.5,426.8 1150.5,421.5 1154.5,416.2 1158.5,411.0 1162.5,405.8 1166.5,400.5 1170.5,395.2 1174.5,390.4 1178.5,386.2 1182.5,382.1 1186.5,377.2 1190.5,371.8 1194.5,366.0 1198.5,360.2 1202.5,354.6 1206.5,348.6 1210.5,342.2 1214.5,336.0 1218.5,329.6 1222.5,322.7 1226.5,315.8 1230.5,309.5 1234.5,303.5 1238.5,297.9 1242.5,292.4 1246.5,286.9 1250.5,282.2 1254.5,278.4 1258.5,275.5" fill="none" stroke="#0000cd" stroke-width="1" shape-rendering="crispEdges" />
<polyline clip-path="url(#cm)" points="6.5,89.8 10.5,92.4 14.5,96.1 18.5,101.2 22.5,106.6 26.5,111.0 30.5,113.6 34.5,113.3 38.5,110.6 42.5,107.8 46.5,105.9 50.5,105.1 54.5,105.9 58.5,108.1 62.5,110.9 66.5,112.8 70.5,113.5 74.5,113.0 78.5,111.3 82.5,108.4 86.5,104.9 90.5,101.9 94.5,99.8 98.5,98.9 102.5,99.8 106.5,101.3 110.5,101.6 114.5,100.1 118.5,98.0 122.5,96.8 126.5,97.2 130.5,98.8 134.5,100.6 138.5,102.3 142.5,103.5 146.5,103.7 150.5,103.0 154.5,101.8 158.5,99.7 162.5,97.2 166.5,96.0 170.5,96.6 174.5,97.9 178.5,98.2 182.5,98.0 186.5,98.5 190.5,99.8 194.5,101.8 198.5,104.7 202.5,108.2 206.5,111.8 210.5,115.0 214.5,118.2 218.5,121.3 222.5,123.8 226.5,126.9 230.5,132.4 234.5,140.1 238.5,148.2 242.5,155.8 246.5,162.3 250.5,167.2 254.5,171.3 258.5,175.3 262.5,179.2 266.5,182.4 270.5,185.0 274.5,187.8 278.5,191.9 282.5,196.5 286.5,199.4 290.5,199.7 294.5,198.4 298.5,197.0 302.5,197.1 306.5,199.0 310.5,201.0 314.5,202.5 318.5,204.2 322.5,206.4 326.5,209.5 330.5,213.1 334.5,216.0 338.5,218.3 342.5,220.8 346.5,223.2 350.5,225.5 354.5,227.8 358.5,229.8 362.5,231.7 366.5,233.8 370.5,236.0 374.5,238.6 378.5,242.2 382.5,246.7 386.5,251.9 390.5,257.6 394.5,263.6 398.5,270.7 402.5,278.8 406.5,287.2 410.5,296.4 414.5,306.1 418.5,314.9 422.5,322.7 426.5,331.3 430.5,340.6 434.5,348.5 438.5,354.0 442.5,357.8 446.5,360.8 450.5,363.1 454.5,365.1 458.5,367.4 462.5,369.2 466.5,370.9 470.5,373.2 474.5,375.8 478.5,378.2 482.5,379.2 486.5,378.2 490.5,377.4 494.5,377.8 498.5,379.2 502.5,381.4 506.5,384.2 510.5,387.1 514.5,389.3 518.5,390.9 522.5,391.4 526.5,390.4 530.5,388.8 534.5,387.2 538.5,385.8 542.5,384.2 546.5,382.9 550.5,382.4 554.5,382.6 558.5,382.6 562.5,382.0 566.5,381.1 570.5,379.6 574.5,378.0 578.5,377.3 582.5,377.2 586.5,377.1 590.5,376.1 594.5,373.8 598.5,370.6 602.5,366.6 606.5,361.6 610.5,356.1 614.5,351.2 618.5,346.8 622.5,342.4 626.5,338.3 630.5,334.4 634.5,331.3 638.5,329.4 642.5,328.5 646.5,328.6 650.5,330.1 654.5,333.6 658.5,338.7 662.5,344.3 666.5,349.6 670.5,353.3 674.5,355.0 678.5,356.5 682.5,359.5 686.5,363.6 690.5,367.6 694.5,371.0 698.5,374.6 702.5,378.3 706.5,381.1 710.5,382.6 714.5,383.0 718.5,382.6 722.5,381.9 726.5,381.0 730.5,379.8 734.5,379.2 738.5,379.4 742.5,379.5 746.5,380.1 750.5,381.6 754.5,382.1 758.5,379.9 762.5,376.6 766.5,374.1 770.5,372.4 774.5,371.7 778.5,372.6 782.5,374.3 786.5,376.3 790.5,378.1 794.5,379.2 798.5,379.1 802.5,377.3 806.5,373.8 810.5,370.6 814.5,370.2 818.5,372.7 822.5,376.2 826.5,379.8 830.5,383.2 834.5,387.3 838.5,393.0 842.5,399.8 846.5,406.9 850.5,413.9 854.5,420.9 858.5,428.1 862.5,435.5 866.5,443.0 870.5,450.1 874.5,456.3 878.5,462.3 882.5,468.9 886.5,474.9 890.5,479.6 894.5,482.9 898.5,484.7 902.5,485.4 906.5,485.7 910.5,485.7 914.5,485.3 918.5,484.8 922.5,484.7 926.5,485.9 930.5,487.8 934.5,489.5 938.5,491.1 942.5,492.6 946.5,494.1 950.5,495.3 954.5,496.1 958.5,496.2 962.5,496.2 966.5,496.5 970.5,497.3 974.5,498.0 978.5,497.7 982.5,496.3 986.5,494.1 990.5,491.9 994.5,489.3 998.5,486.6 1002.5,484.7 1006.5,483.8 1010.5,482.8 1014.5,481.9 1018.5,481.4 1022.5,481.4 1026.5,481.4 1030.5,481.3 1034.5,480.4 1038.5,478.1 1042.5,474.8 1046.5,470.8 1050.5,466.7 1054.5,462.8 1058.5,459.0 1062.5,455.6 1066.5,453.4 1070.5,452.2 1074.5,451.5 1078.5,450.8 1082.5,450.3 1086.5,449.9 1090.5,449.4 1094.5,449.2 1098.5,449.4 1102.5,450.4 1106.5,452.5 1110.5,453.9 1114.5,453.1 1118.5,450.3 1122.5,446.4 1126.5,441.4 1130.5,434.6 1134.5,426.6 1138.5,417.8 1142.5,408.7 1146.5,399.4 1150.5,389.3 1154.5,378.0 1158.5,366.0 1162.5,354.0 1166.5,342.8 1170.5,333.2 1174.5,324.4 1178.5,316.3 1182.5,310.4 1186.5,305.6 1190.5,300.8 1194.5,296.9 1198.5,293.9 1202.5,292.1 1206.5,292.5 1210.5,293.1 1214.5,292.2 1218.5,289.5 1222.5,285.6 1226.5,281.8 1230.5,278.2 1234.5,274.2 1238.5,269.3 1242.5,264.1 1246.5,259.4 1250.5,255.9 1254.5,253.2 1258.5,251.0" fill="none" stroke="#ff0000" stroke-width="1" shape-rendering="crispEdges" />
<polyline clip-path="url(#cm)" points="6.5,109.2 10.5,95.0 14.5,81.5 18.5,79.2 22.5,82.2 26.5,92.0 30.5,104.0 34.5,113.0 38.5,119.8 42.5,125.0 46.5,126.2 50.5,122.8 54.5,121.2 58.5,120.5 62.5,116.0 66.5,110.8 70.5,107.0 74.5,101.8 78.5,93.5 82.5,86.8 86.5,81.5 90.5,79.2 94.5,79.2 98.5,84.5 102.5,97.6 106.5,113.0 110.5,122.0 114.5,123.5 118.5,114.5 122.5,103.2 126.5,95.0 130.5,90.5 134.5,90.8 138.5,95.8 142.5,100.2 146.5,97.2 150.5,95.3 154.5,95.3 158.5,94.2 162.5,94.3 166.5,97.0 170.5,100.8 174.5,100.8 178.5,98.5 182.5,100.0 186.5,98.5 190.5,100.0 194.5,108.2 198.5,119.5 202.5,126.2 206.5,132.2 210.5,137.5 214.5,142.0 218.5,145.0 222.5,144.2 226.5,144.2 230.5,151.0 234.5,160.5 238.5,176.2 242.5,191.0 246.5,203.0 250.5,206.0 254.5,203.8 258.5,197.8 262.5,188.8 266.5,188.3 270.5,190.2 274.5,189.2 278.5,192.5 282.5,199.2 286.5,203.0 290.5,206.8 294.5,208.2 298.5,206.8 302.5,202.2 306.5,203.8 310.5,204.8 314.5,208.7 318.5,210.5 322.5,215.0 326.5,220.2 330.5,225.5 334.5,232.2 338.5,237.5 342.5,241.2 346.5,241.7 350.5,241.2 354.5,240.8 358.5,237.2 362.5,233.3 366.5,236.0 370.5,238.2 374.5,237.5 378.5,248.0 382.5,264.5 386.5,279.5 390.5,293.0 394.5,308.0 398.5,317.6 402.5,329.6 406.5,341.2 410.5,351.4 414.5,360.2 418.5,363.2 422.5,361.8 426.5,362.5 430.5,367.0 434.5,368.5 438.5,368.8 442.5,373.8 446.5,373.8 450.5,365.5 454.5,364.0 458.5,367.0 462.5,372.2 466.5,379.0 470.5,386.5 474.5,393.2 478.5,392.5 482.5,393.2 486.5,389.5 490.5,382.0 494.5,376.8 498.5,377.5 502.5,379.0 506.5,385.8 510.5,391.0 514.5,397.8 518.5,403.0 522.5,405.2 526.5,401.5 530.5,394.0 534.5,383.5 538.5,374.5 542.5,367.0 546.5,362.5 550.5,361.8 554.5,365.5 558.5,373.0 562.5,380.5 566.5,385.8 570.5,388.0 574.5,388.3 578.5,388.3 582.5,388.0 586.5,385.8 590.5,377.5 594.5,365.5 598.5,349.0 602.5,331.0 606.5,316.8 610.5,307.8 614.5,304.4 618.5,307.0 622.5,313.8 626.5,323.5 630.5,331.0 634.5,337.8 638.5,342.2 642.5,344.8 646.5,346.0 650.5,348.2 654.5,355.0 658.5,364.0 662.5,368.5 666.5,371.5 670.5,374.5 674.5,371.5 678.5,366.2 682.5,361.8 686.5,365.5 690.5,373.9 694.5,381.8 698.5,390.5 702.5,397.2 706.5,400.2 710.5,399.5 714.5,397.7 718.5,395.8 722.5,383.0 726.5,370.2 730.5,359.8 734.5,353.8 738.5,352.2 742.5,356.0 746.5,365.8 750.5,386.0 754.5,400.2 758.5,402.2 762.5,401.0 766.5,390.5 770.5,372.5 774.5,363.5 778.5,360.8 782.5,362.0 786.5,368.0 790.5,371.8 794.5,374.0 798.5,376.2 802.5,377.8 806.5,374.0 810.5,370.2 814.5,373.2 818.5,378.5 822.5,385.2 826.5,393.5 830.5,398.8 834.5,407.0 838.5,416.0 842.5,428.8 846.5,443.0 850.5,457.2 854.5,467.8 858.5,474.5 862.5,476.8 866.5,479.0 870.5,479.3 874.5,479.0 878.5,479.8 882.5,481.7 886.5,484.2 890.5,491.0 894.5,495.5 898.5,497.8 902.5,497.3 906.5,493.2 910.5,488.8 914.5,482.8 918.5,476.0 922.5,474.8 926.5,479.0 930.5,485.8 934.5,491.8 938.5,497.8 942.5,506.8 946.5,511.2 950.5,512.8 954.5,512.3 958.5,512.8 962.5,509.0 966.5,497.8 970.5,491.0 974.5,485.8 978.5,480.5 982.5,477.8 986.5,476.9 990.5,476.1 994.5,475.5 998.5,474.8 1002.5,477.8 1006.5,483.8 1010.5,487.5 1014.5,489.0 1018.5,489.8 1022.5,486.0 1026.5,483.8 1030.5,481.5 1034.5,478.5 1038.5,471.8 1042.5,461.2 1046.5,450.0 1050.5,438.0 1054.5,430.5 1058.5,426.8 1062.5,426.4 1066.5,430.5 1070.5,441.8 1074.5,451.5 1078.5,460.5 1082.5,465.8 1086.5,469.5 1090.5,470.2 1094.5,463.5 1098.5,458.2 1102.5,453.0 1106.5,446.2 1110.5,441.8 1114.5,439.5 1118.5,429.0 1122.5,420.0 1126.5,411.0 1130.5,401.2 1134.5,390.8 1138.5,381.0 1142.5,370.5 1146.5,355.5 1150.5,333.0 1154.5,310.8 1158.5,294.2 1162.5,284.5 1166.5,279.6 1170.5,283.4 1174.5,286.4 1178.5,290.5 1182.5,293.5 1186.5,296.9 1190.5,297.1 1194.5,297.6 1198.5,296.9 1202.5,296.9 1206.5,298.8 1210.5,294.6 1214.5,287.5 1218.5,277.4 1222.5,268.4 1226.5,256.2 1230.5,248.8 1234.5,242.8 1238.5,239.8 1242.5,238.2 1246.5,236.0 1250.5,234.2 1254.5,238.2 1258.5,242.3" fill="none" stroke="#ffa500" stroke-width="1" shape-rendering="crispEdges" />
<g shape-rendering="crispEdges">
<rect x="6" y="209" width="1576" height="2" fill="#ff0000"/>
<rect x="5" y="207" width="6" height="6" fill="#ff0000"/><rect x="7" y="209" width="2" height="2" fill="#fff"/>
<rect x="1576" y="207" width="6" height="6" fill="#ff0000"/><rect x="1578" y="209" width="2" height="2" fill="#fff"/>
<rect x="6" y="286" width="1576" height="2" fill="#ff0000"/>
<rect x="6" y="347" width="1576" height="2" fill="#00ff00"/>
<rect x="5" y="345" width="6" height="6" fill="#00ff00"/><rect x="7" y="347" width="2" height="2" fill="#fff"/>
<rect x="1576" y="345" width="6" height="6" fill="#00ff00"/><rect x="1578" y="347" width="2" height="2" fill="#fff"/>
<rect x="6" y="424" width="1576" height="2" fill="#0000ff"/>
<rect x="5" y="422" width="6" height="6" fill="#0000ff"/><rect x="7" y="424" width="2" height="2" fill="#fff"/>
<rect x="1576" y="422" width="6" height="6" fill="#0000ff"/><rect x="1578" y="424" width="2" height="2" fill="#fff"/>
<rect x="6" y="487" width="1576" height="2" fill="#0000ff"/>
<rect x="5" y="485" width="6" height="6" fill="#0000ff"/><rect x="7" y="487" width="2" height="2" fill="#fff"/>
<rect x="1576" y="485" width="6" height="6" fill="#0000ff"/><rect x="1578" y="487" width="2" height="2" fill="#fff"/>
<rect x="6" y="543" width="1576" height="2" fill="#0000ff"/>
<rect x="5" y="541" width="6" height="6" fill="#0000ff"/><rect x="7" y="543" width="2" height="2" fill="#fff"/>
<rect x="1576" y="541" width="6" height="6" fill="#0000ff"/><rect x="1578" y="543" width="2" height="2" fill="#fff"/>
</g>
<polygon points="1261,28 1271,28 1266,33" fill="#c0c0c0"/>
<g shape-rendering="crispEdges">
<rect x="1583" y="56" width="2" height="1" fill="#000"/>
<rect x="1583" y="89" width="2" height="1" fill="#000"/>
<rect x="1583" y="122" width="2" height="1" fill="#000"/>
<rect x="1583" y="155" width="2" height="1" fill="#000"/>
<rect x="1583" y="188" width="2" height="1" fill="#000"/>
<rect x="1583" y="221" width="2" height="1" fill="#000"/>
<rect x="1583" y="254" width="2" height="1" fill="#000"/>
<rect x="1583" y="287" width="2" height="1" fill="#000"/>
<rect x="1583" y="320" width="2" height="1" fill="#000"/>
<rect x="1583" y="353" width="2" height="1" fill="#000"/>
<rect x="1583" y="386" width="2" height="1" fill="#000"/>
<rect x="1583" y="419" width="2" height="1" fill="#000"/>
<rect x="1583" y="452" width="2" height="1" fill="#000"/>
<rect x="1583" y="485" width="2" height="1" fill="#000"/>
<rect x="1583" y="518" width="2" height="1" fill="#000"/>
<rect x="1583" y="551" width="2" height="1" fill="#000"/>
</g>
<text x="1588" y="60" font-size="9.7" fill="#000" stroke="#000" stroke-width="0.22" text-anchor="start" font-weight="normal" textLength="33" lengthAdjust="spacingAndGlyphs">0.97960</text>
<text x="1588" y="93" font-size="9.7" fill="#000" stroke="#000" stroke-width="0.22" text-anchor="start" font-weight="normal" textLength="33" lengthAdjust="spacingAndGlyphs">0.97260</text>
<text x="1588" y="126" font-size="9.7" fill="#000" stroke="#000" stroke-width="0.22" text-anchor="start" font-weight="normal" textLength="33" lengthAdjust="spacingAndGlyphs">0.96540</text>
<text x="1588" y="159" font-size="9.7" fill="#000" stroke="#000" stroke-width="0.22" text-anchor="start" font-weight="normal" textLength="33" lengthAdjust="spacingAndGlyphs">0.95840</text>
<text x="1588" y="192" font-size="9.7" fill="#000" stroke="#000" stroke-width="0.22" text-anchor="start" font-weight="normal" textLength="33" lengthAdjust="spacingAndGlyphs">0.95140</text>
<text x="1588" y="225" font-size="9.7" fill="#000" stroke="#000" stroke-width="0.22" text-anchor="start" font-weight="normal" textLength="33" lengthAdjust="spacingAndGlyphs">0.94420</text>
<text x="1588" y="258" font-size="9.7" fill="#000" stroke="#000" stroke-width="0.22" text-anchor="start" font-weight="normal" textLength="33" lengthAdjust="spacingAndGlyphs">0.93720</text>
<text x="1588" y="291" font-size="9.7" fill="#000" stroke="#000" stroke-width="0.22" text-anchor="start" font-weight="normal" textLength="33" lengthAdjust="spacingAndGlyphs">0.93020</text>
<text x="1588" y="324" font-size="9.7" fill="#000" stroke="#000" stroke-width="0.22" text-anchor="start" font-weight="normal" textLength="33" lengthAdjust="spacingAndGlyphs">0.92300</text>
<text x="1588" y="357" font-size="9.7" fill="#000" stroke="#000" stroke-width="0.22" text-anchor="start" font-weight="normal" textLength="33" lengthAdjust="spacingAndGlyphs">0.91600</text>
<text x="1588" y="390" font-size="9.7" fill="#000" stroke="#000" stroke-width="0.22" text-anchor="start" font-weight="normal" textLength="33" lengthAdjust="spacingAndGlyphs">0.90880</text>
<text x="1588" y="423" font-size="9.7" fill="#000" stroke="#000" stroke-width="0.22" text-anchor="start" font-weight="normal" textLength="33" lengthAdjust="spacingAndGlyphs">0.90180</text>
<text x="1588" y="456" font-size="9.7" fill="#000" stroke="#000" stroke-width="0.22" text-anchor="start" font-weight="normal" textLength="33" lengthAdjust="spacingAndGlyphs">0.89480</text>
<text x="1588" y="489" font-size="9.7" fill="#000" stroke="#000" stroke-width="0.22" text-anchor="start" font-weight="normal" textLength="33" lengthAdjust="spacingAndGlyphs">0.88780</text>
<text x="1588" y="522" font-size="9.7" fill="#000" stroke="#000" stroke-width="0.22" text-anchor="start" font-weight="normal" textLength="33" lengthAdjust="spacingAndGlyphs">0.88060</text>
<text x="1588" y="555" font-size="9.7" fill="#000" stroke="#000" stroke-width="0.22" text-anchor="start" font-weight="normal" textLength="33" lengthAdjust="spacingAndGlyphs">0.87360</text>
<rect x="1584" y="246" width="41" height="11" fill="#000" shape-rendering="crispEdges"/>
<text x="1588" y="255" font-size="9.7" fill="#fff" stroke="#fff" stroke-width="0.22" text-anchor="start" font-weight="normal" textLength="33" lengthAdjust="spacingAndGlyphs">0.93776</text>
<rect x="1584" y="204" width="41" height="11" fill="#ff0000" shape-rendering="crispEdges"/>
<text x="1588" y="213" font-size="9.7" fill="#fff" stroke="#fff" stroke-width="0.22" text-anchor="start" font-weight="normal" textLength="33" lengthAdjust="spacingAndGlyphs">0.94651</text>
<rect x="1584" y="281" width="41" height="11" fill="#ff0000" shape-rendering="crispEdges"/>
<text x="1588" y="290" font-size="9.7" fill="#fff" stroke="#fff" stroke-width="0.22" text-anchor="start" font-weight="normal" textLength="33" lengthAdjust="spacingAndGlyphs">0.93001</text>
<rect x="1584" y="342" width="41" height="11" fill="#00ff00" shape-rendering="crispEdges"/>
<text x="1588" y="351" font-size="9.7" fill="#fff" stroke="#fff" stroke-width="0.22" text-anchor="start" font-weight="normal" textLength="33" lengthAdjust="spacingAndGlyphs">0.91709</text>
<rect x="1584" y="419" width="41" height="11" fill="#0000ff" shape-rendering="crispEdges"/>
<text x="1588" y="428" font-size="9.7" fill="#fff" stroke="#fff" stroke-width="0.22" text-anchor="start" font-weight="normal" textLength="33" lengthAdjust="spacingAndGlyphs">0.90055</text>
<rect x="1584" y="482" width="41" height="11" fill="#0000ff" shape-rendering="crispEdges"/>
<text x="1588" y="491" font-size="9.7" fill="#fff" stroke="#fff" stroke-width="0.22" text-anchor="start" font-weight="normal" textLength="33" lengthAdjust="spacingAndGlyphs">0.88703</text>
<rect x="1584" y="538" width="41" height="11" fill="#0000ff" shape-rendering="crispEdges"/>
<text x="1588" y="547" font-size="9.7" fill="#fff" stroke="#fff" stroke-width="0.22" text-anchor="start" font-weight="normal" textLength="33" lengthAdjust="spacingAndGlyphs">0.87513</text>
<polygon points="9,34 16,34 12.5,38" fill="#000"/>
<text x="21.6" y="39" font-size="9.7" fill="#000" stroke="#000" stroke-width="0.22" text-anchor="start" font-weight="normal" textLength="64" lengthAdjust="spacingAndGlyphs">USDCHF,Daily</text>
<text x="92" y="39" font-size="9.7" fill="#000" stroke="#000" stroke-width="0.22" text-anchor="start" font-weight="normal" textLength="33" lengthAdjust="spacingAndGlyphs">0.93586</text>
<text x="128.5" y="39" font-size="9.7" fill="#000" stroke="#000" stroke-width="0.22" text-anchor="start" font-weight="normal" textLength="33" lengthAdjust="spacingAndGlyphs">0.93777</text>
<text x="164" y="39" font-size="9.7" fill="#000" stroke="#000" stroke-width="0.22" text-anchor="start" font-weight="normal" textLength="33" lengthAdjust="spacingAndGlyphs">0.93574</text>
<text x="200" y="39" font-size="9.7" fill="#000" stroke="#000" stroke-width="0.22" text-anchor="start" font-weight="normal" textLength="33" lengthAdjust="spacingAndGlyphs">0.93776</text>
<g shape-rendering="crispEdges">
<line x1="6" y1="586.5" x2="1582" y2="586.5" stroke="#c0c0c0" stroke-width="1" stroke-dasharray="3,3"/>
<line x1="6" y1="623.5" x2="1582" y2="623.5" stroke="#c0c0c0" stroke-width="1" stroke-dasharray="3,3"/>
<rect x="1583" y="558" width="1" height="1" fill="#000"/>
<rect x="1583" y="586" width="2" height="1" fill="#000"/>
<rect x="1583" y="623" width="2" height="1" fill="#000"/>
<rect x="1583" y="650" width="1" height="1" fill="#000"/>
</g>
<text x="10" y="569" font-size="9.7" fill="#000" stroke="#000" stroke-width="0.22" text-anchor="start" font-weight="normal" textLength="68" lengthAdjust="spacingAndGlyphs">RSI(14) 58.7574</text>
<text x="1586" y="567" font-size="9.7" fill="#000" stroke="#000" stroke-width="0.22" text-anchor="start" font-weight="normal" textLength="14.6" lengthAdjust="spacingAndGlyphs">100</text>
<text x="1586" y="590" font-size="9.7" fill="#000" stroke="#000" stroke-width="0.22" text-anchor="start" font-weight="normal" textLength="9.8" lengthAdjust="spacingAndGlyphs">70</text>
<text x="1586" y="627" font-size="9.7" fill="#000" stroke="#000" stroke-width="0.22" text-anchor="start" font-weight="normal" textLength="9.8" lengthAdjust="spacingAndGlyphs">30</text>
<text x="1586" y="648" font-size="9.7" fill="#000" stroke="#000" stroke-width="0.22" text-anchor="start" font-weight="normal" textLength="4.9" lengthAdjust="spacingAndGlyphs">0</text>
<text x="10" y="667" font-size="9.7" fill="#000" stroke="#000" stroke-width="0.22" text-anchor="start" font-weight="normal" textLength="148" lengthAdjust="spacingAndGlyphs">MACD(12,26,9) 0.005530 0.006656</text>
<g shape-rendering="crispEdges"><rect x="1583" y="705" width="2" height="1" fill="#000"/><rect x="1583" y="656" width="1" height="1" fill="#000"/><rect x="1583" y="748" width="1" height="1" fill="#000"/></g>
<text x="1586" y="664.6" font-size="9.7" fill="#000" stroke="#000" stroke-width="0.22" text-anchor="start" font-weight="normal" textLength="37.5" lengthAdjust="spacingAndGlyphs">0.010933</text>
<text x="1586" y="708.7" font-size="9.7" fill="#000" stroke="#000" stroke-width="0.22" text-anchor="start" font-weight="normal" textLength="17.7" lengthAdjust="spacingAndGlyphs">0.00</text>
<text x="1586.5" y="746.8" font-size="9.7" fill="#000" stroke="#000" stroke-width="0.22" text-anchor="start" font-weight="normal" textLength="39.6" lengthAdjust="spacingAndGlyphs">-0.009653</text>
<polyline clip-path="url(#cr)" points="6.0,597.5 10.0,598.8 14.0,598.1 18.0,603.0 22.0,602.6 26.0,606.5 30.0,607.3 34.0,606.8 38.0,605.0 42.0,610.4 46.0,606.7 50.0,602.9 54.0,605.8 58.0,604.5 62.0,604.9 66.0,602.9 70.0,601.1 74.0,599.3 78.0,597.6 82.0,597.8 86.0,597.2 90.0,598.7 94.0,598.6 98.0,608.4 102.0,614.9 106.0,612.5 110.0,608.8 114.0,601.2 118.0,599.1 122.0,598.9 126.0,604.4 130.0,603.5 134.0,602.0 138.0,606.7 142.0,604.8 146.0,601.3 150.0,601.7 154.0,602.4 158.0,604.5 162.0,601.6 166.0,610.9 170.0,604.7 174.0,602.4 178.0,602.0 182.0,604.1 186.0,609.0 190.0,605.3 194.0,611.2 198.0,613.5 202.0,613.3 206.0,613.8 210.0,612.5 214.0,613.6 218.0,618.7 222.0,609.6 226.0,610.0 230.0,615.3 234.0,621.9 238.0,624.2 242.0,628.1 246.0,612.1 250.0,609.5 254.0,612.5 258.0,613.1 262.0,611.2 266.0,611.2 270.0,609.9 274.0,610.6 278.0,614.3 282.0,617.2 286.0,612.8 290.0,610.7 294.0,611.6 298.0,612.1 302.0,608.0 306.0,611.7 310.0,613.2 314.0,612.7 318.0,613.4 322.0,613.9 326.0,617.5 330.0,618.1 334.0,621.1 338.0,617.3 342.0,617.9 346.0,613.6 350.0,614.4 354.0,617.6 358.0,607.7 362.0,608.8 366.0,614.1 370.0,614.8 374.0,613.4 378.0,619.3 382.0,623.9 386.0,626.7 390.0,628.5 394.0,628.6 398.0,629.7 402.0,631.8 406.0,633.3 410.0,634.4 414.0,634.7 418.0,629.1 422.0,618.4 426.0,621.8 430.0,628.4 434.0,621.1 438.0,615.8 442.0,616.6 446.0,613.6 450.0,612.3 454.0,617.1 458.0,618.0 462.0,618.5 466.0,617.7 470.0,621.0 474.0,623.4 478.0,610.7 482.0,613.5 486.0,607.9 490.0,608.7 494.0,610.2 498.0,612.0 502.0,612.3 506.0,613.3 510.0,617.0 514.0,615.4 518.0,619.0 522.0,609.9 526.0,605.7 530.0,606.1 534.0,601.0 538.0,604.2 542.0,600.3 546.0,599.2 550.0,604.0 554.0,609.8 558.0,607.5 562.0,607.1 566.0,610.6 570.0,608.4 574.0,608.9 578.0,606.4 582.0,607.0 586.0,605.5 590.0,597.4 594.0,593.4 598.0,590.3 602.0,587.7 606.0,585.6 610.0,586.5 614.0,593.2 618.0,598.5 622.0,602.3 626.0,603.4 630.0,600.0 634.0,599.9 638.0,607.2 642.0,607.4 646.0,605.3 650.0,603.9 654.0,613.7 658.0,614.0 662.0,614.0 666.0,606.1 670.0,609.0 674.0,606.2 678.0,604.6 682.0,605.5 686.0,613.1 690.0,615.4 694.0,618.2 698.0,612.6 702.0,614.9 706.0,615.7 710.0,611.1 714.0,612.3 718.0,607.1 722.0,597.9 726.0,598.3 730.0,598.0 734.0,594.8 738.0,605.3 742.0,606.1 746.0,612.5 750.0,618.5 754.0,618.0 758.0,604.6 762.0,602.1 766.0,597.8 770.0,602.4 774.0,602.9 778.0,603.3 782.0,603.7 786.0,606.3 790.0,607.6 794.0,604.5 798.0,605.1 802.0,604.7 806.0,601.8 810.0,604.7 814.0,607.8 818.0,611.2 822.0,613.7 826.0,614.1 830.0,612.9 834.0,617.9 838.0,622.3 842.0,627.1 846.0,625.5 850.0,626.1 854.0,627.1 858.0,627.5 862.0,624.1 866.0,626.8 870.0,618.5 874.0,619.9 878.0,620.6 882.0,623.1 886.0,624.6 890.0,625.0 894.0,621.6 898.0,623.6 902.0,614.6 906.0,611.8 910.0,611.2 914.0,608.1 918.0,607.5 922.0,611.5 926.0,617.7 930.0,619.9 934.0,617.1 938.0,614.7 942.0,621.3 946.0,621.3 950.0,617.7 954.0,608.8 958.0,612.6 962.0,606.8 966.0,599.9 970.0,602.9 974.0,605.6 978.0,603.6 982.0,602.2 986.0,600.6 990.0,601.2 994.0,605.3 998.0,602.5 1002.0,608.6 1006.0,609.9 1010.0,608.2 1014.0,604.1 1018.0,606.2 1022.0,602.4 1026.0,604.4 1030.0,602.5 1034.0,600.3 1038.0,593.2 1042.0,589.5 1046.0,588.8 1050.0,585.2 1054.0,591.0 1058.0,592.6 1062.0,594.3 1066.0,604.5 1070.0,608.6 1074.0,608.1 1078.0,606.2 1082.0,605.7 1086.0,609.3 1090.0,605.8 1094.0,596.3 1098.0,597.9 1102.0,601.5 1106.0,599.3 1110.0,599.5 1114.0,594.5 1118.0,586.0 1122.0,595.5 1126.0,593.4 1130.0,590.3 1134.0,586.9 1138.0,586.2 1142.0,584.6 1146.0,579.8 1150.0,577.1 1154.0,578.4 1158.0,576.4 1162.0,584.1 1166.0,583.5 1170.0,591.7 1174.0,589.2 1178.0,588.9 1182.0,590.7 1186.0,593.9 1190.0,592.6 1194.0,592.2 1198.0,590.3 1202.0,592.4 1206.0,601.2 1210.0,592.5 1214.0,590.4 1218.0,587.7 1222.0,587.5 1226.0,588.7 1230.0,590.4 1234.0,586.7 1238.0,588.5 1242.0,590.0 1246.0,589.4 1250.0,588.8 1254.0,599.0 1258.0,596.9" fill="none" stroke="#1e90ff" stroke-width="1" shape-rendering="crispEdges" />
<g clip-path="url(#cd)" shape-rendering="crispEdges">
<rect x="6" y="697" width="1" height="9" fill="#c0c0c0"/>
<rect x="10" y="695" width="1" height="11" fill="#c0c0c0"/>
<rect x="14" y="693" width="1" height="13" fill="#c0c0c0"/>
<rect x="18" y="694" width="1" height="12" fill="#c0c0c0"/>
<rect x="22" y="695" width="1" height="11" fill="#c0c0c0"/>
<rect x="26" y="697" width="1" height="9" fill="#c0c0c0"/>
<rect x="30" y="700" width="1" height="6" fill="#c0c0c0"/>
<rect x="34" y="702" width="1" height="4" fill="#c0c0c0"/>
<rect x="38" y="702" width="1" height="4" fill="#c0c0c0"/>
<rect x="42" y="705" width="1" height="2" fill="#c0c0c0"/>
<rect x="46" y="705" width="1" height="2" fill="#c0c0c0"/>
<rect x="50" y="705" width="1" height="1" fill="#c0c0c0"/>
<rect x="54" y="705" width="1" height="2" fill="#c0c0c0"/>
<rect x="58" y="705" width="1" height="2" fill="#c0c0c0"/>
<rect x="62" y="705" width="1" height="2" fill="#c0c0c0"/>
<rect x="66" y="705" width="1" height="1" fill="#c0c0c0"/>
<rect x="70" y="703" width="1" height="3" fill="#c0c0c0"/>
<rect x="74" y="702" width="1" height="4" fill="#c0c0c0"/>
<rect x="78" y="700" width="1" height="6" fill="#c0c0c0"/>
<rect x="82" y="698" width="1" height="8" fill="#c0c0c0"/>
<rect x="86" y="697" width="1" height="9" fill="#c0c0c0"/>
<rect x="90" y="696" width="1" height="10" fill="#c0c0c0"/>
<rect x="94" y="696" width="1" height="10" fill="#c0c0c0"/>
<rect x="98" y="698" width="1" height="8" fill="#c0c0c0"/>
<rect x="102" y="703" width="1" height="3" fill="#c0c0c0"/>
<rect x="106" y="705" width="1" height="2" fill="#c0c0c0"/>
<rect x="110" y="705" width="1" height="3" fill="#c0c0c0"/>
<rect x="114" y="705" width="1" height="2" fill="#c0c0c0"/>
<rect x="118" y="703" width="1" height="3" fill="#c0c0c0"/>
<rect x="122" y="702" width="1" height="4" fill="#c0c0c0"/>
<rect x="126" y="702" width="1" height="4" fill="#c0c0c0"/>
<rect x="130" y="702" width="1" height="4" fill="#c0c0c0"/>
<rect x="134" y="702" width="1" height="4" fill="#c0c0c0"/>
<rect x="138" y="703" width="1" height="3" fill="#c0c0c0"/>
<rect x="142" y="703" width="1" height="3" fill="#c0c0c0"/>
<rect x="146" y="702" width="1" height="4" fill="#c0c0c0"/>
<rect x="150" y="702" width="1" height="4" fill="#c0c0c0"/>
<rect x="154" y="702" width="1" height="4" fill="#c0c0c0"/>
<rect x="158" y="702" width="1" height="4" fill="#c0c0c0"/>
<rect x="162" y="702" width="1" height="4" fill="#c0c0c0"/>
<rect x="166" y="704" width="1" height="2" fill="#c0c0c0"/>
<rect x="170" y="704" width="1" height="2" fill="#c0c0c0"/>
<rect x="174" y="704" width="1" height="2" fill="#c0c0c0"/>
<rect x="178" y="703" width="1" height="3" fill="#c0c0c0"/>
<rect x="182" y="703" width="1" height="3" fill="#c0c0c0"/>
<rect x="186" y="705" width="1" height="1" fill="#c0c0c0"/>
<rect x="190" y="705" width="1" height="1" fill="#c0c0c0"/>
<rect x="194" y="705" width="1" height="3" fill="#c0c0c0"/>
<rect x="198" y="705" width="1" height="6" fill="#c0c0c0"/>
<rect x="202" y="705" width="1" height="8" fill="#c0c0c0"/>
<rect x="206" y="705" width="1" height="9" fill="#c0c0c0"/>
<rect x="210" y="705" width="1" height="10" fill="#c0c0c0"/>
<rect x="214" y="705" width="1" height="11" fill="#c0c0c0"/>
<rect x="218" y="705" width="1" height="13" fill="#c0c0c0"/>
<rect x="222" y="705" width="1" height="13" fill="#c0c0c0"/>
<rect x="226" y="705" width="1" height="12" fill="#c0c0c0"/>
<rect x="230" y="705" width="1" height="14" fill="#c0c0c0"/>
<rect x="234" y="705" width="1" height="18" fill="#c0c0c0"/>
<rect x="238" y="705" width="1" height="22" fill="#c0c0c0"/>
<rect x="242" y="705" width="1" height="28" fill="#c0c0c0"/>
<rect x="246" y="705" width="1" height="27" fill="#c0c0c0"/>
<rect x="250" y="705" width="1" height="25" fill="#c0c0c0"/>
<rect x="254" y="705" width="1" height="25" fill="#c0c0c0"/>
<rect x="258" y="705" width="1" height="25" fill="#c0c0c0"/>
<rect x="262" y="705" width="1" height="24" fill="#c0c0c0"/>
<rect x="266" y="705" width="1" height="23" fill="#c0c0c0"/>
<rect x="270" y="705" width="1" height="21" fill="#c0c0c0"/>
<rect x="274" y="705" width="1" height="20" fill="#c0c0c0"/>
<rect x="278" y="705" width="1" height="20" fill="#c0c0c0"/>
<rect x="282" y="705" width="1" height="22" fill="#c0c0c0"/>
<rect x="286" y="705" width="1" height="21" fill="#c0c0c0"/>
<rect x="290" y="705" width="1" height="20" fill="#c0c0c0"/>
<rect x="294" y="705" width="1" height="19" fill="#c0c0c0"/>
<rect x="298" y="705" width="1" height="19" fill="#c0c0c0"/>
<rect x="302" y="705" width="1" height="17" fill="#c0c0c0"/>
<rect x="306" y="705" width="1" height="17" fill="#c0c0c0"/>
<rect x="310" y="705" width="1" height="17" fill="#c0c0c0"/>
<rect x="314" y="705" width="1" height="16" fill="#c0c0c0"/>
<rect x="318" y="705" width="1" height="16" fill="#c0c0c0"/>
<rect x="322" y="705" width="1" height="16" fill="#c0c0c0"/>
<rect x="326" y="705" width="1" height="17" fill="#c0c0c0"/>
<rect x="330" y="705" width="1" height="18" fill="#c0c0c0"/>
<rect x="334" y="705" width="1" height="19" fill="#c0c0c0"/>
<rect x="338" y="705" width="1" height="20" fill="#c0c0c0"/>
<rect x="342" y="705" width="1" height="20" fill="#c0c0c0"/>
<rect x="346" y="705" width="1" height="19" fill="#c0c0c0"/>
<rect x="350" y="705" width="1" height="18" fill="#c0c0c0"/>
<rect x="354" y="705" width="1" height="18" fill="#c0c0c0"/>
<rect x="358" y="705" width="1" height="16" fill="#c0c0c0"/>
<rect x="362" y="705" width="1" height="15" fill="#c0c0c0"/>
<rect x="366" y="705" width="1" height="15" fill="#c0c0c0"/>
<rect x="370" y="705" width="1" height="15" fill="#c0c0c0"/>
<rect x="374" y="705" width="1" height="15" fill="#c0c0c0"/>
<rect x="378" y="705" width="1" height="17" fill="#c0c0c0"/>
<rect x="382" y="705" width="1" height="19" fill="#c0c0c0"/>
<rect x="386" y="705" width="1" height="23" fill="#c0c0c0"/>
<rect x="390" y="705" width="1" height="26" fill="#c0c0c0"/>
<rect x="394" y="705" width="1" height="29" fill="#c0c0c0"/>
<rect x="398" y="705" width="1" height="31" fill="#c0c0c0"/>
<rect x="402" y="705" width="1" height="34" fill="#c0c0c0"/>
<rect x="406" y="705" width="1" height="36" fill="#c0c0c0"/>
<rect x="410" y="705" width="1" height="39" fill="#c0c0c0"/>
<rect x="414" y="705" width="1" height="41" fill="#c0c0c0"/>
<rect x="418" y="705" width="1" height="41" fill="#c0c0c0"/>
<rect x="422" y="705" width="1" height="38" fill="#c0c0c0"/>
<rect x="426" y="705" width="1" height="37" fill="#c0c0c0"/>
<rect x="430" y="705" width="1" height="40" fill="#c0c0c0"/>
<rect x="434" y="705" width="1" height="40" fill="#c0c0c0"/>
<rect x="438" y="705" width="1" height="38" fill="#c0c0c0"/>
<rect x="442" y="705" width="1" height="36" fill="#c0c0c0"/>
<rect x="446" y="705" width="1" height="34" fill="#c0c0c0"/>
<rect x="450" y="705" width="1" height="31" fill="#c0c0c0"/>
<rect x="454" y="705" width="1" height="30" fill="#c0c0c0"/>
<rect x="458" y="705" width="1" height="30" fill="#c0c0c0"/>
<rect x="462" y="705" width="1" height="30" fill="#c0c0c0"/>
<rect x="466" y="705" width="1" height="29" fill="#c0c0c0"/>
<rect x="470" y="705" width="1" height="29" fill="#c0c0c0"/>
<rect x="474" y="705" width="1" height="31" fill="#c0c0c0"/>
<rect x="478" y="705" width="1" height="28" fill="#c0c0c0"/>
<rect x="482" y="705" width="1" height="27" fill="#c0c0c0"/>
<rect x="486" y="705" width="1" height="24" fill="#c0c0c0"/>
<rect x="490" y="705" width="1" height="22" fill="#c0c0c0"/>
<rect x="494" y="705" width="1" height="20" fill="#c0c0c0"/>
<rect x="498" y="705" width="1" height="19" fill="#c0c0c0"/>
<rect x="502" y="705" width="1" height="19" fill="#c0c0c0"/>
<rect x="506" y="705" width="1" height="18" fill="#c0c0c0"/>
<rect x="510" y="705" width="1" height="19" fill="#c0c0c0"/>
<rect x="514" y="705" width="1" height="19" fill="#c0c0c0"/>
<rect x="518" y="705" width="1" height="21" fill="#c0c0c0"/>
<rect x="522" y="705" width="1" height="19" fill="#c0c0c0"/>
<rect x="526" y="705" width="1" height="16" fill="#c0c0c0"/>
<rect x="530" y="705" width="1" height="14" fill="#c0c0c0"/>
<rect x="534" y="705" width="1" height="11" fill="#c0c0c0"/>
<rect x="538" y="705" width="1" height="9" fill="#c0c0c0"/>
<rect x="542" y="705" width="1" height="6" fill="#c0c0c0"/>
<rect x="546" y="705" width="1" height="4" fill="#c0c0c0"/>
<rect x="550" y="705" width="1" height="3" fill="#c0c0c0"/>
<rect x="554" y="705" width="1" height="4" fill="#c0c0c0"/>
<rect x="558" y="705" width="1" height="5" fill="#c0c0c0"/>
<rect x="562" y="705" width="1" height="5" fill="#c0c0c0"/>
<rect x="566" y="705" width="1" height="6" fill="#c0c0c0"/>
<rect x="570" y="705" width="1" height="6" fill="#c0c0c0"/>
<rect x="574" y="705" width="1" height="6" fill="#c0c0c0"/>
<rect x="578" y="705" width="1" height="6" fill="#c0c0c0"/>
<rect x="582" y="705" width="1" height="6" fill="#c0c0c0"/>
<rect x="586" y="705" width="1" height="5" fill="#c0c0c0"/>
<rect x="590" y="705" width="1" height="2" fill="#c0c0c0"/>
<rect x="594" y="703" width="1" height="3" fill="#c0c0c0"/>
<rect x="598" y="699" width="1" height="7" fill="#c0c0c0"/>
<rect x="602" y="695" width="1" height="11" fill="#c0c0c0"/>
<rect x="606" y="691" width="1" height="15" fill="#c0c0c0"/>
<rect x="610" y="688" width="1" height="18" fill="#c0c0c0"/>
<rect x="614" y="687" width="1" height="19" fill="#c0c0c0"/>
<rect x="618" y="688" width="1" height="18" fill="#c0c0c0"/>
<rect x="622" y="690" width="1" height="16" fill="#c0c0c0"/>
<rect x="626" y="692" width="1" height="14" fill="#c0c0c0"/>
<rect x="630" y="693" width="1" height="13" fill="#c0c0c0"/>
<rect x="634" y="693" width="1" height="13" fill="#c0c0c0"/>
<rect x="638" y="696" width="1" height="10" fill="#c0c0c0"/>
<rect x="642" y="698" width="1" height="8" fill="#c0c0c0"/>
<rect x="646" y="699" width="1" height="7" fill="#c0c0c0"/>
<rect x="650" y="700" width="1" height="6" fill="#c0c0c0"/>
<rect x="654" y="703" width="1" height="3" fill="#c0c0c0"/>
<rect x="658" y="705" width="1" height="2" fill="#c0c0c0"/>
<rect x="662" y="705" width="1" height="4" fill="#c0c0c0"/>
<rect x="666" y="705" width="1" height="4" fill="#c0c0c0"/>
<rect x="670" y="705" width="1" height="5" fill="#c0c0c0"/>
<rect x="674" y="705" width="1" height="5" fill="#c0c0c0"/>
<rect x="678" y="705" width="1" height="4" fill="#c0c0c0"/>
<rect x="682" y="705" width="1" height="4" fill="#c0c0c0"/>
<rect x="686" y="705" width="1" height="6" fill="#c0c0c0"/>
<rect x="690" y="705" width="1" height="8" fill="#c0c0c0"/>
<rect x="694" y="705" width="1" height="10" fill="#c0c0c0"/>
<rect x="698" y="705" width="1" height="11" fill="#c0c0c0"/>
<rect x="702" y="705" width="1" height="12" fill="#c0c0c0"/>
<rect x="706" y="705" width="1" height="13" fill="#c0c0c0"/>
<rect x="710" y="705" width="1" height="13" fill="#c0c0c0"/>
<rect x="714" y="705" width="1" height="13" fill="#c0c0c0"/>
<rect x="718" y="705" width="1" height="12" fill="#c0c0c0"/>
<rect x="722" y="705" width="1" height="8" fill="#c0c0c0"/>
<rect x="726" y="705" width="1" height="5" fill="#c0c0c0"/>
<rect x="730" y="705" width="1" height="3" fill="#c0c0c0"/>
<rect x="734" y="704" width="1" height="2" fill="#c0c0c0"/>
<rect x="738" y="704" width="1" height="2" fill="#c0c0c0"/>
<rect x="742" y="705" width="1" height="1" fill="#c0c0c0"/>
<rect x="746" y="705" width="1" height="3" fill="#c0c0c0"/>
<rect x="750" y="705" width="1" height="7" fill="#c0c0c0"/>
<rect x="754" y="705" width="1" height="11" fill="#c0c0c0"/>
<rect x="758" y="705" width="1" height="9" fill="#c0c0c0"/>
<rect x="762" y="705" width="1" height="7" fill="#c0c0c0"/>
<rect x="766" y="705" width="1" height="3" fill="#c0c0c0"/>
<rect x="770" y="705" width="1" height="2" fill="#c0c0c0"/>
<rect x="774" y="705" width="1" height="1" fill="#c0c0c0"/>
<rect x="778" y="704" width="1" height="2" fill="#c0c0c0"/>
<rect x="782" y="704" width="1" height="2" fill="#c0c0c0"/>
<rect x="786" y="705" width="1" height="1" fill="#c0c0c0"/>
<rect x="790" y="705" width="1" height="2" fill="#c0c0c0"/>
<rect x="794" y="705" width="1" height="1" fill="#c0c0c0"/>
<rect x="798" y="705" width="1" height="1" fill="#c0c0c0"/>
<rect x="802" y="705" width="1" height="1" fill="#c0c0c0"/>
<rect x="806" y="704" width="1" height="2" fill="#c0c0c0"/>
<rect x="810" y="705" width="1" height="1" fill="#c0c0c0"/>
<rect x="814" y="705" width="1" height="1" fill="#c0c0c0"/>
<rect x="818" y="705" width="1" height="3" fill="#c0c0c0"/>
<rect x="822" y="705" width="1" height="5" fill="#c0c0c0"/>
<rect x="826" y="705" width="1" height="7" fill="#c0c0c0"/>
<rect x="830" y="705" width="1" height="8" fill="#c0c0c0"/>
<rect x="834" y="705" width="1" height="10" fill="#c0c0c0"/>
<rect x="838" y="705" width="1" height="13" fill="#c0c0c0"/>
<rect x="842" y="705" width="1" height="18" fill="#c0c0c0"/>
<rect x="846" y="705" width="1" height="21" fill="#c0c0c0"/>
<rect x="850" y="705" width="1" height="24" fill="#c0c0c0"/>
<rect x="854" y="705" width="1" height="26" fill="#c0c0c0"/>
<rect x="858" y="705" width="1" height="27" fill="#c0c0c0"/>
<rect x="862" y="705" width="1" height="28" fill="#c0c0c0"/>
<rect x="866" y="705" width="1" height="29" fill="#c0c0c0"/>
<rect x="870" y="705" width="1" height="28" fill="#c0c0c0"/>
<rect x="874" y="705" width="1" height="28" fill="#c0c0c0"/>
<rect x="878" y="705" width="1" height="27" fill="#c0c0c0"/>
<rect x="882" y="705" width="1" height="28" fill="#c0c0c0"/>
<rect x="886" y="705" width="1" height="28" fill="#c0c0c0"/>
<rect x="890" y="705" width="1" height="28" fill="#c0c0c0"/>
<rect x="894" y="705" width="1" height="28" fill="#c0c0c0"/>
<rect x="898" y="705" width="1" height="28" fill="#c0c0c0"/>
<rect x="902" y="705" width="1" height="26" fill="#c0c0c0"/>
<rect x="906" y="705" width="1" height="23" fill="#c0c0c0"/>
<rect x="910" y="705" width="1" height="21" fill="#c0c0c0"/>
<rect x="914" y="705" width="1" height="19" fill="#c0c0c0"/>
<rect x="918" y="705" width="1" height="16" fill="#c0c0c0"/>
<rect x="922" y="705" width="1" height="15" fill="#c0c0c0"/>
<rect x="926" y="705" width="1" height="16" fill="#c0c0c0"/>
<rect x="930" y="705" width="1" height="17" fill="#c0c0c0"/>
<rect x="934" y="705" width="1" height="17" fill="#c0c0c0"/>
<rect x="938" y="705" width="1" height="17" fill="#c0c0c0"/>
<rect x="942" y="705" width="1" height="18" fill="#c0c0c0"/>
<rect x="946" y="705" width="1" height="19" fill="#c0c0c0"/>
<rect x="950" y="705" width="1" height="19" fill="#c0c0c0"/>
<rect x="954" y="705" width="1" height="17" fill="#c0c0c0"/>
<rect x="958" y="705" width="1" height="17" fill="#c0c0c0"/>
<rect x="962" y="705" width="1" height="15" fill="#c0c0c0"/>
<rect x="966" y="705" width="1" height="11" fill="#c0c0c0"/>
<rect x="970" y="705" width="1" height="9" fill="#c0c0c0"/>
<rect x="974" y="705" width="1" height="8" fill="#c0c0c0"/>
<rect x="978" y="705" width="1" height="6" fill="#c0c0c0"/>
<rect x="982" y="705" width="1" height="5" fill="#c0c0c0"/>
<rect x="986" y="705" width="1" height="3" fill="#c0c0c0"/>
<rect x="990" y="705" width="1" height="2" fill="#c0c0c0"/>
<rect x="994" y="705" width="1" height="2" fill="#c0c0c0"/>
<rect x="998" y="705" width="1" height="1" fill="#c0c0c0"/>
<rect x="1002" y="705" width="1" height="2" fill="#c0c0c0"/>
<rect x="1006" y="705" width="1" height="3" fill="#c0c0c0"/>
<rect x="1010" y="705" width="1" height="3" fill="#c0c0c0"/>
<rect x="1014" y="705" width="1" height="3" fill="#c0c0c0"/>
<rect x="1018" y="705" width="1" height="3" fill="#c0c0c0"/>
<rect x="1022" y="705" width="1" height="2" fill="#c0c0c0"/>
<rect x="1026" y="705" width="1" height="2" fill="#c0c0c0"/>
<rect x="1030" y="705" width="1" height="1" fill="#c0c0c0"/>
<rect x="1034" y="704" width="1" height="2" fill="#c0c0c0"/>
<rect x="1038" y="702" width="1" height="4" fill="#c0c0c0"/>
<rect x="1042" y="698" width="1" height="8" fill="#c0c0c0"/>
<rect x="1046" y="696" width="1" height="10" fill="#c0c0c0"/>
<rect x="1050" y="693" width="1" height="13" fill="#c0c0c0"/>
<rect x="1054" y="691" width="1" height="15" fill="#c0c0c0"/>
<rect x="1058" y="690" width="1" height="16" fill="#c0c0c0"/>
<rect x="1062" y="690" width="1" height="16" fill="#c0c0c0"/>
<rect x="1066" y="693" width="1" height="13" fill="#c0c0c0"/>
<rect x="1070" y="696" width="1" height="10" fill="#c0c0c0"/>
<rect x="1074" y="698" width="1" height="8" fill="#c0c0c0"/>
<rect x="1078" y="699" width="1" height="7" fill="#c0c0c0"/>
<rect x="1082" y="700" width="1" height="6" fill="#c0c0c0"/>
<rect x="1086" y="702" width="1" height="4" fill="#c0c0c0"/>
<rect x="1090" y="703" width="1" height="3" fill="#c0c0c0"/>
<rect x="1094" y="701" width="1" height="5" fill="#c0c0c0"/>
<rect x="1098" y="700" width="1" height="6" fill="#c0c0c0"/>
<rect x="1102" y="700" width="1" height="6" fill="#c0c0c0"/>
<rect x="1106" y="699" width="1" height="7" fill="#c0c0c0"/>
<rect x="1110" y="699" width="1" height="7" fill="#c0c0c0"/>
<rect x="1114" y="698" width="1" height="8" fill="#c0c0c0"/>
<rect x="1118" y="693" width="1" height="13" fill="#c0c0c0"/>
<rect x="1122" y="692" width="1" height="14" fill="#c0c0c0"/>
<rect x="1126" y="691" width="1" height="15" fill="#c0c0c0"/>
<rect x="1130" y="688" width="1" height="18" fill="#c0c0c0"/>
<rect x="1134" y="685" width="1" height="21" fill="#c0c0c0"/>
<rect x="1138" y="682" width="1" height="24" fill="#c0c0c0"/>
<rect x="1142" y="680" width="1" height="26" fill="#c0c0c0"/>
<rect x="1146" y="675" width="1" height="31" fill="#c0c0c0"/>
<rect x="1150" y="669" width="1" height="37" fill="#c0c0c0"/>
<rect x="1154" y="665" width="1" height="41" fill="#c0c0c0"/>
<rect x="1158" y="661" width="1" height="45" fill="#c0c0c0"/>
<rect x="1162" y="660" width="1" height="46" fill="#c0c0c0"/>
<rect x="1166" y="659" width="1" height="47" fill="#c0c0c0"/>
<rect x="1170" y="662" width="1" height="44" fill="#c0c0c0"/>
<rect x="1174" y="662" width="1" height="44" fill="#c0c0c0"/>
<rect x="1178" y="663" width="1" height="43" fill="#c0c0c0"/>
<rect x="1182" y="665" width="1" height="41" fill="#c0c0c0"/>
<rect x="1186" y="668" width="1" height="38" fill="#c0c0c0"/>
<rect x="1190" y="670" width="1" height="36" fill="#c0c0c0"/>
<rect x="1194" y="671" width="1" height="35" fill="#c0c0c0"/>
<rect x="1198" y="672" width="1" height="34" fill="#c0c0c0"/>
<rect x="1202" y="674" width="1" height="32" fill="#c0c0c0"/>
<rect x="1206" y="678" width="1" height="28" fill="#c0c0c0"/>
<rect x="1210" y="678" width="1" height="28" fill="#c0c0c0"/>
<rect x="1214" y="677" width="1" height="29" fill="#c0c0c0"/>
<rect x="1218" y="675" width="1" height="31" fill="#c0c0c0"/>
<rect x="1222" y="674" width="1" height="32" fill="#c0c0c0"/>
<rect x="1226" y="673" width="1" height="33" fill="#c0c0c0"/>
<rect x="1230" y="674" width="1" height="32" fill="#c0c0c0"/>
<rect x="1234" y="673" width="1" height="33" fill="#c0c0c0"/>
<rect x="1238" y="673" width="1" height="33" fill="#c0c0c0"/>
<rect x="1242" y="673" width="1" height="33" fill="#c0c0c0"/>
<rect x="1246" y="674" width="1" height="32" fill="#c0c0c0"/>
<rect x="1250" y="675" width="1" height="31" fill="#c0c0c0"/>
<rect x="1254" y="678" width="1" height="28" fill="#c0c0c0"/>
<rect x="1258" y="680" width="1" height="26" fill="#c0c0c0"/>
</g>
<polyline clip-path="url(#cd)" points="6.0,700.2 10.0,699.6 14.0,698.9 18.0,698.2 22.0,697.7 26.0,697.4 30.0,697.4 34.0,697.6 38.0,697.8 42.0,698.8 46.0,700.0 50.0,701.4 54.0,702.6 58.0,703.8 62.0,704.7 66.0,705.3 70.0,705.5 74.0,705.4 78.0,704.7 82.0,703.8 86.0,702.8 90.0,701.8 94.0,700.7 98.0,699.9 102.0,699.7 106.0,700.0 110.0,700.7 114.0,701.4 118.0,702.0 122.0,702.5 126.0,703.2 130.0,703.9 134.0,704.2 138.0,704.2 142.0,703.9 146.0,703.3 150.0,702.9 154.0,702.7 158.0,702.7 162.0,702.7 166.0,702.9 170.0,703.2 174.0,703.3 178.0,703.2 182.0,703.3 186.0,703.6 190.0,704.0 194.0,704.6 198.0,705.5 202.0,706.3 206.0,707.3 210.0,708.4 214.0,709.7 218.0,711.3 222.0,712.7 226.0,713.9 230.0,715.1 234.0,716.5 238.0,718.1 242.0,720.2 246.0,722.1 250.0,723.7 254.0,725.0 258.0,726.3 262.0,727.5 266.0,728.5 270.0,728.8 274.0,728.6 278.0,727.7 282.0,727.1 286.0,726.7 290.0,726.2 294.0,725.6 298.0,725.0 302.0,724.4 306.0,723.9 310.0,723.6 314.0,723.1 318.0,722.6 322.0,722.0 326.0,721.7 330.0,721.5 334.0,721.6 338.0,721.9 342.0,722.2 346.0,722.5 350.0,722.7 354.0,722.9 358.0,722.9 362.0,722.7 366.0,722.4 370.0,721.9 374.0,721.4 378.0,721.1 382.0,721.1 386.0,721.6 390.0,722.5 394.0,723.9 398.0,725.7 402.0,727.8 406.0,730.1 410.0,732.8 414.0,735.5 418.0,737.9 422.0,739.6 426.0,740.8 430.0,742.1 434.0,743.0 438.0,743.5 442.0,743.4 446.0,742.8 450.0,741.7 454.0,740.5 458.0,739.6 462.0,738.8 466.0,737.5 470.0,736.4 474.0,735.6 478.0,734.7 482.0,733.9 486.0,733.2 490.0,732.2 494.0,731.1 498.0,729.9 502.0,728.8 506.0,727.5 510.0,726.2 514.0,725.3 518.0,724.6 522.0,724.1 526.0,723.5 530.0,722.9 534.0,721.9 538.0,720.9 542.0,719.5 546.0,717.8 550.0,716.0 554.0,714.2 558.0,712.6 562.0,711.3 566.0,710.4 570.0,709.8 574.0,709.5 578.0,709.5 582.0,709.7 586.0,709.9 590.0,709.7 594.0,709.1 598.0,708.0 602.0,706.3 606.0,704.1 610.0,701.6 614.0,699.1 618.0,696.7 622.0,694.6 626.0,693.0 630.0,691.8 634.0,691.2 638.0,691.3 642.0,692.1 646.0,693.4 650.0,694.8 654.0,696.5 658.0,698.3 662.0,700.1 666.0,701.8 670.0,703.5 674.0,705.0 678.0,706.1 682.0,707.0 686.0,708.1 690.0,709.0 694.0,709.9 698.0,710.7 702.0,711.6 706.0,712.6 710.0,713.5 714.0,714.5 718.0,715.4 722.0,715.7 726.0,715.4 730.0,714.6 734.0,713.3 738.0,711.9 742.0,710.5 746.0,709.4 750.0,708.8 754.0,708.6 758.0,708.7 762.0,708.9 766.0,709.0 770.0,709.2 774.0,709.3 778.0,709.3 782.0,709.0 786.0,708.2 790.0,707.2 794.0,706.4 798.0,705.8 802.0,705.6 806.0,705.5 810.0,705.4 814.0,705.5 818.0,705.8 822.0,706.3 826.0,706.9 830.0,707.5 834.0,708.5 838.0,709.8 842.0,711.7 846.0,714.0 850.0,716.4 854.0,719.0 858.0,721.5 862.0,723.8 866.0,726.2 870.0,728.3 874.0,729.9 878.0,730.9 882.0,731.7 886.0,732.2 890.0,732.5 894.0,732.5 898.0,732.5 902.0,732.1 906.0,731.6 910.0,730.9 914.0,729.9 918.0,728.7 922.0,727.3 926.0,725.9 930.0,724.7 934.0,723.5 938.0,722.5 942.0,721.9 946.0,721.7 950.0,721.7 954.0,721.8 958.0,721.9 962.0,721.8 966.0,721.1 970.0,720.2 974.0,719.2 978.0,717.9 982.0,716.3 986.0,714.5 990.0,712.8 994.0,711.2 998.0,709.7 1002.0,708.7 1006.0,708.1 1010.0,707.6 1014.0,707.2 1018.0,707.0 1022.0,706.9 1026.0,706.8 1030.0,706.8 1034.0,706.6 1038.0,706.2 1042.0,705.2 1046.0,703.9 1050.0,702.3 1054.0,700.6 1058.0,698.8 1062.0,697.1 1066.0,695.7 1070.0,694.8 1074.0,694.4 1078.0,694.5 1082.0,695.0 1086.0,696.0 1090.0,697.3 1094.0,698.5 1098.0,699.5 1102.0,700.3 1106.0,700.8 1110.0,700.9 1114.0,700.7 1118.0,699.9 1122.0,698.8 1126.0,697.5 1130.0,696.1 1134.0,694.4 1138.0,692.5 1142.0,690.3 1146.0,687.6 1150.0,684.4 1154.0,681.3 1158.0,677.9 1162.0,674.5 1166.0,671.2 1170.0,668.6 1174.0,666.4 1178.0,664.6 1182.0,663.5 1186.0,663.4 1190.0,663.9 1194.0,665.0 1198.0,666.4 1202.0,668.0 1206.0,669.8 1210.0,671.5 1214.0,673.0 1218.0,674.1 1222.0,674.7 1226.0,675.1 1230.0,675.4 1234.0,675.4 1238.0,675.3 1242.0,674.8 1246.0,674.4 1250.0,674.1 1254.0,674.5 1258.0,675.2" fill="none" stroke="#ff0000" stroke-width="1" shape-rendering="crispEdges" stroke-dasharray="3,3"/>
<g shape-rendering="crispEdges">
<rect x="6" y="751" width="1" height="3" fill="#000"/>
<rect x="70" y="751" width="1" height="3" fill="#000"/>
<rect x="134" y="751" width="1" height="3" fill="#000"/>
<rect x="198" y="751" width="1" height="3" fill="#000"/>
<rect x="262" y="751" width="1" height="3" fill="#000"/>
<rect x="326" y="751" width="1" height="3" fill="#000"/>
<rect x="390" y="751" width="1" height="3" fill="#000"/>
<rect x="454" y="751" width="1" height="3" fill="#000"/>
<rect x="518" y="751" width="1" height="3" fill="#000"/>
<rect x="582" y="751" width="1" height="3" fill="#000"/>
<rect x="646" y="751" width="1" height="3" fill="#000"/>
<rect x="710" y="751" width="1" height="3" fill="#000"/>
<rect x="774" y="751" width="1" height="3" fill="#000"/>
<rect x="838" y="751" width="1" height="3" fill="#000"/>
<rect x="902" y="751" width="1" height="3" fill="#000"/>
<rect x="966" y="751" width="1" height="3" fill="#000"/>
<rect x="1030" y="751" width="1" height="3" fill="#000"/>
<rect x="1094" y="751" width="1" height="3" fill="#000"/>
<rect x="1158" y="751" width="1" height="3" fill="#000"/>
<rect x="1222" y="751" width="1" height="3" fill="#000"/>
</g>
<text x="5" y="763" font-size="9.7" fill="#000" stroke="#000" stroke-width="0.22" text-anchor="start" font-weight="normal">3 Apr 2020</text>
<text x="69" y="763" font-size="9.7" fill="#000" stroke="#000" stroke-width="0.22" text-anchor="start" font-weight="normal">22 Apr 2020</text>
<text x="133" y="763" font-size="9.7" fill="#000" stroke="#000" stroke-width="0.22" text-anchor="start" font-weight="normal">11 May 2020</text>
<text x="197" y="763" font-size="9.7" fill="#000" stroke="#000" stroke-width="0.22" text-anchor="start" font-weight="normal">29 May 2020</text>
<text x="261" y="763" font-size="9.7" fill="#000" stroke="#000" stroke-width="0.22" text-anchor="start" font-weight="normal">17 Jun 2020</text>
<text x="325" y="763" font-size="9.7" fill="#000" stroke="#000" stroke-width="0.22" text-anchor="start" font-weight="normal">6 Jul 2020</text>
<text x="389" y="763" font-size="9.7" fill="#000" stroke="#000" stroke-width="0.22" text-anchor="start" font-weight="normal">24 Jul 2020</text>
<text x="453" y="763" font-size="9.7" fill="#000" stroke="#000" stroke-width="0.22" text-anchor="start" font-weight="normal">12 Aug 2020</text>
<text x="517" y="763" font-size="9.7" fill="#000" stroke="#000" stroke-width="0.22" text-anchor="start" font-weight="normal">31 Aug 2020</text>
<text x="581" y="763" font-size="9.7" fill="#000" stroke="#000" stroke-width="0.22" text-anchor="start" font-weight="normal">18 Sep 2020</text>
<text x="645" y="763" font-size="9.7" fill="#000" stroke="#000" stroke-width="0.22" text-anchor="start" font-weight="normal">7 Oct 2020</text>
<text x="709" y="763" font-size="9.7" fill="#000" stroke="#000" stroke-width="0.22" text-anchor="start" font-weight="normal">26 Oct 2020</text>
<text x="773" y="763" font-size="9.7" fill="#000" stroke="#000" stroke-width="0.22" text-anchor="start" font-weight="normal">13 Nov 2020</text>
<text x="837" y="763" font-size="9.7" fill="#000" stroke="#000" stroke-width="0.22" text-anchor="start" font-weight="normal">2 Dec 2020</text>
<text x="901" y="763" font-size="9.7" fill="#000" stroke="#000" stroke-width="0.22" text-anchor="start" font-weight="normal">21 Dec 2020</text>
<text x="965" y="763" font-size="9.7" fill="#000" stroke="#000" stroke-width="0.22" text-anchor="start" font-weight="normal">11 Jan 2021</text>
<text x="1029" y="763" font-size="9.7" fill="#000" stroke="#000" stroke-width="0.22" text-anchor="start" font-weight="normal">29 Jan 2021</text>
<text x="1093" y="763" font-size="9.7" fill="#000" stroke="#000" stroke-width="0.22" text-anchor="start" font-weight="normal">17 Feb 2021</text>
<text x="1157" y="763" font-size="9.7" fill="#000" stroke="#000" stroke-width="0.22" text-anchor="start" font-weight="normal">8 Mar 2021</text>
<text x="1221" y="763" font-size="9.7" fill="#000" stroke="#000" stroke-width="0.22" text-anchor="start" font-weight="normal">26 Mar 2021</text>
<g shape-rendering="crispEdges">
<rect x="30" y="0" width="1" height="23" fill="#a0a0a0"/><rect x="31" y="0" width="1" height="23" fill="#fff"/>
<rect x="291" y="0" width="1" height="23" fill="#a0a0a0"/><rect x="292" y="0" width="1" height="23" fill="#fff"/>
<rect x="34" y="1" width="3" height="1" fill="#a0a0a0"/>
<rect x="34" y="3" width="3" height="1" fill="#a0a0a0"/>
<rect x="34" y="5" width="3" height="1" fill="#a0a0a0"/>
<rect x="34" y="7" width="3" height="1" fill="#a0a0a0"/>
<rect x="34" y="9" width="3" height="1" fill="#a0a0a0"/>
<rect x="34" y="11" width="3" height="1" fill="#a0a0a0"/>
<rect x="34" y="13" width="3" height="1" fill="#a0a0a0"/>
<rect x="34" y="15" width="3" height="1" fill="#a0a0a0"/>
<rect x="34" y="17" width="3" height="1" fill="#a0a0a0"/>
<rect x="34" y="19" width="3" height="1" fill="#a0a0a0"/>
<rect x="208" y="0" width="26" height="22" fill="#f8f8f8"/><rect x="208" y="0" width="1" height="21" fill="#a0a0a0"/><rect x="233" y="0" width="1" height="22" fill="#fff"/><rect x="208" y="21" width="26" height="1" fill="#fff"/>
</g>
<polygon points="18.7,10 24.5,10 21.6,13.4" fill="#000"/>
<g fill="#505050"><polygon points="0,5.3 1.5,4.7 4.9,8.3 3.2,9.6 0,9.6"/><polygon points="5,14.4 7.2,13.2 9.8,13.2 12.1,14.4 8.5,18.3"/></g><path d="M-0.5,12.2 L2.4,14.6 L6.8,9.6" stroke="#505050" stroke-width="1.3" fill="none"/>
<text x="45.5" y="15" font-size="10.5" fill="#404040" stroke="#404040" stroke-width="0" text-anchor="start" font-weight="normal" textLength="12.5" lengthAdjust="spacingAndGlyphs">M1</text>
<text x="74" y="15" font-size="10.5" fill="#404040" stroke="#404040" stroke-width="0" text-anchor="start" font-weight="normal" textLength="12.5" lengthAdjust="spacingAndGlyphs">M5</text>
<text x="99.5" y="15" font-size="10.5" fill="#404040" stroke="#404040" stroke-width="0" text-anchor="start" font-weight="normal" textLength="17.5" lengthAdjust="spacingAndGlyphs">M15</text>
<text x="127.5" y="15" font-size="10.5" fill="#404040" stroke="#404040" stroke-width="0" text-anchor="start" font-weight="normal" textLength="17.8" lengthAdjust="spacingAndGlyphs">M30</text>
<text x="158.5" y="15" font-size="10.5" fill="#404040" stroke="#404040" stroke-width="0" text-anchor="start" font-weight="normal" textLength="11.5" lengthAdjust="spacingAndGlyphs">H1</text>
<text x="185.5" y="15" font-size="10.5" fill="#404040" stroke="#404040" stroke-width="0" text-anchor="start" font-weight="normal" textLength="12.5" lengthAdjust="spacingAndGlyphs">H4</text>
<text x="214.5" y="15" font-size="10.5" fill="#404040" stroke="#404040" stroke-width="0" text-anchor="start" font-weight="normal" textLength="12" lengthAdjust="spacingAndGlyphs">D1</text>
<text x="242" y="15" font-size="10.5" fill="#404040" stroke="#404040" stroke-width="0" text-anchor="start" font-weight="normal" textLength="14" lengthAdjust="spacingAndGlyphs">W1</text>
<text x="269" y="15" font-size="10.5" fill="#404040" stroke="#404040" stroke-width="0" text-anchor="start" font-weight="normal" textLength="14" lengthAdjust="spacingAndGlyphs">MN</text>
<g shape-rendering="crispEdges">
<rect x="0" y="772" width="1629" height="28" fill="#f0f0f0"/>
<rect x="3" y="771" width="1626" height="1" fill="#e3e3e3"/>
<rect x="1" y="773" width="1628" height="1" fill="#000"/>
<rect x="2" y="774" width="1" height="18" fill="#696969"/><rect x="0" y="792" width="3" height="1" fill="#a0a0a0"/>
<rect x="111" y="773" width="101" height="19" fill="#fff"/>
<rect x="111" y="773" width="1" height="19" fill="#000"/><rect x="211" y="773" width="1" height="19" fill="#000"/><rect x="111" y="791" width="101" height="1" fill="#000"/>
<rect x="0" y="793" width="1629" height="1" fill="#fff"/><rect x="0" y="797" width="1627" height="1" fill="#a0a0a0"/><rect x="0" y="798" width="1629" height="2" fill="#fff"/>
</g>
<text x="19.5" y="788" font-size="12.4" fill="#6d6d6d" stroke="#6d6d6d" stroke-width="0.12" text-anchor="start" font-weight="normal" textLength="79.2" lengthAdjust="spacingAndGlyphs">EURUSD,Daily</text>
<text x="121" y="788" font-size="12.4" fill="#000" stroke="#000" stroke-width="0.12" text-anchor="start" font-weight="normal" textLength="79" lengthAdjust="spacingAndGlyphs">USDCHF,Daily</text>
<text x="222.2" y="788" font-size="12.4" fill="#6d6d6d" stroke="#6d6d6d" stroke-width="0.12" text-anchor="start" font-weight="normal" textLength="82" lengthAdjust="spacingAndGlyphs">AUDUSD,Daily</text>
<text x="326.5" y="788" font-size="12.4" fill="#6d6d6d" stroke="#6d6d6d" stroke-width="0.12" text-anchor="start" font-weight="normal" textLength="81" lengthAdjust="spacingAndGlyphs">USDCAD,Daily</text>
<text x="429.7" y="788" font-size="12.4" fill="#6d6d6d" stroke="#6d6d6d" stroke-width="0.12" text-anchor="start" font-weight="normal" textLength="82.5" lengthAdjust="spacingAndGlyphs">USDCNH,Daily</text>
<text x="535.7" y="788" font-size="12.4" fill="#6d6d6d" stroke="#6d6d6d" stroke-width="0.12" text-anchor="start" font-weight="normal" textLength="79.7" lengthAdjust="spacingAndGlyphs">EURUSD,Daily</text>
<text x="639.5" y="788" font-size="12.4" fill="#6d6d6d" stroke="#6d6d6d" stroke-width="0.12" text-anchor="start" font-weight="normal" textLength="79.7" lengthAdjust="spacingAndGlyphs">GBPUSD,Daily</text>
<text x="742.2" y="788" font-size="12.4" fill="#6d6d6d" stroke="#6d6d6d" stroke-width="0.12" text-anchor="start" font-weight="normal" textLength="69" lengthAdjust="spacingAndGlyphs">XAUUSD,H4</text>
<text x="835.4" y="788" font-size="12.4" fill="#6d6d6d" stroke="#6d6d6d" stroke-width="0.12" text-anchor="start" font-weight="normal" textLength="59.5" lengthAdjust="spacingAndGlyphs">HK50,M15</text>
<text x="918.6" y="788" font-size="12.4" fill="#6d6d6d" stroke="#6d6d6d" stroke-width="0.12" text-anchor="start" font-weight="normal" textLength="56" lengthAdjust="spacingAndGlyphs">UK100,H1</text>
<text x="998.9" y="788" font-size="12.4" fill="#6d6d6d" stroke="#6d6d6d" stroke-width="0.12" text-anchor="start" font-weight="normal" textLength="56" lengthAdjust="spacingAndGlyphs">UK100,H1</text>
<text x="1078.4" y="788" font-size="12.4" fill="#6d6d6d" stroke="#6d6d6d" stroke-width="0.12" text-anchor="start" font-weight="normal" textLength="56" lengthAdjust="spacingAndGlyphs">GER30,H1</text>
<text x="1157.6" y="788" font-size="12.4" fill="#6d6d6d" stroke="#6d6d6d" stroke-width="0.12" text-anchor="start" font-weight="normal" textLength="54" lengthAdjust="spacingAndGlyphs">FRA40,H1</text>
<text x="1233.8" y="788" font-size="12.4" fill="#6d6d6d" stroke="#6d6d6d" stroke-width="0.12" text-anchor="start" font-weight="normal" textLength="50" lengthAdjust="spacingAndGlyphs">USOil,H1</text>
<text x="1306.2" y="788" font-size="12.4" fill="#6d6d6d" stroke="#6d6d6d" stroke-width="0.12" text-anchor="start" font-weight="normal" textLength="61.4" lengthAdjust="spacingAndGlyphs">USDJPY,H1</text>
<text x="1390.5" y="788" font-size="12.4" fill="#6d6d6d" stroke="#6d6d6d" stroke-width="0.12" text-anchor="start" font-weight="normal" textLength="72.5" lengthAdjust="spacingAndGlyphs">DJ30,Weekly</text>
<text x="1485.5" y="788" font-size="12.4" fill="#6d6d6d" stroke="#6d6d6d" stroke-width="0.12" text-anchor="start" font-weight="normal" textLength="78" lengthAdjust="spacingAndGlyphs">CHINA300,H1</text>
<text x="1585.6" y="788" font-size="12.4" fill="#6d6d6d" stroke="#6d6d6d" stroke-width="0.12" text-anchor="start" font-weight="normal" textLength="6.8" lengthAdjust="spacingAndGlyphs">U</text>
<g shape-rendering="crispEdges">
<rect x="315" y="776" width="1" height="14" fill="#6d6d6d"/>
<rect x="419" y="776" width="1" height="14" fill="#6d6d6d"/>
<rect x="523" y="776" width="1" height="14" fill="#6d6d6d"/>
<rect x="627" y="776" width="1" height="14" fill="#6d6d6d"/>
<rect x="731" y="776" width="1" height="14" fill="#6d6d6d"/>
<rect x="823" y="776" width="1" height="14" fill="#6d6d6d"/>
<rect x="907" y="776" width="1" height="14" fill="#6d6d6d"/>
<rect x="987" y="776" width="1" height="14" fill="#6d6d6d"/>
<rect x="1067" y="776" width="1" height="14" fill="#6d6d6d"/>
<rect x="1147" y="776" width="1" height="14" fill="#6d6d6d"/>
<rect x="1223" y="776" width="1" height="14" fill="#6d6d6d"/>
<rect x="1295" y="776" width="1" height="14" fill="#6d6d6d"/>
<rect x="1379" y="776" width="1" height="14" fill="#6d6d6d"/>
<rect x="1475" y="776" width="1" height="14" fill="#6d6d6d"/>
<rect x="1575" y="776" width="1" height="14" fill="#6d6d6d"/>
</g>
<polygon points="1601.5,779.5 1601.5,786 1597.8,782.7" fill="#a0a0a0"/><polygon points="1616.3,778.8 1616.3,786 1620.6,782.4" fill="#000"/>
</svg></body></html>
